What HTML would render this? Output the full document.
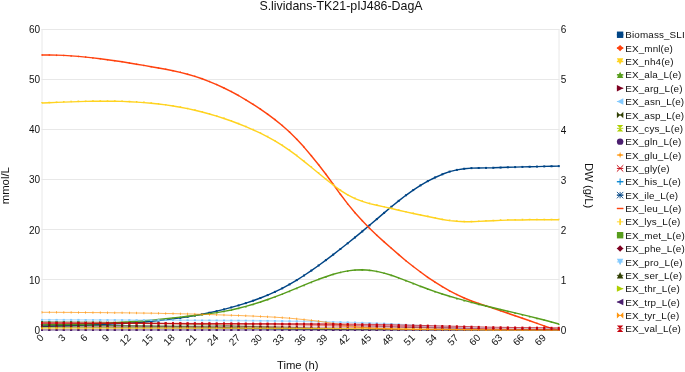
<!DOCTYPE html>
<html><head><meta charset="utf-8"><title>S.lividans-TK21-pIJ486-DagA</title>
<style>html,body{margin:0;padding:0;background:#fff;overflow:hidden}body{width:685px;height:372px;position:relative}</style></head>
<body>
<svg width="685" height="372" viewBox="0 0 685 372" style="position:absolute;left:0;top:0;font-family:'Liberation Sans',Arial,sans-serif;fill:#111">
<path d="M41.5 29.5H559.5M41.5 79.5H559.5M41.5 129.5H559.5M41.5 179.5H559.5M41.5 229.5H559.5M41.5 279.5H559.5M41.5 329.5H559.5M42 29V330M559 29V330" stroke="#e8e8e8" stroke-width="1" fill="none"/>
<text x="341" y="9.7" font-size="12.4" text-anchor="middle">S.lividans-TK21-pIJ486-DagA</text>
<text x="40" y="33.30" font-size="10" text-anchor="end">60</text>
<text x="560.8" y="33.30" font-size="10">6</text>
<text x="40" y="83.30" font-size="10" text-anchor="end">50</text>
<text x="560.8" y="83.30" font-size="10">5</text>
<text x="40" y="133.30" font-size="10" text-anchor="end">40</text>
<text x="560.8" y="133.80" font-size="10">4</text>
<text x="40" y="183.30" font-size="10" text-anchor="end">30</text>
<text x="560.8" y="183.70" font-size="10">3</text>
<text x="40" y="233.50" font-size="10" text-anchor="end">20</text>
<text x="560.8" y="233.80" font-size="10">2</text>
<text x="40" y="284.20" font-size="10" text-anchor="end">10</text>
<text x="560.8" y="284.20" font-size="10">1</text>
<text x="40" y="334.20" font-size="10" text-anchor="end">0</text>
<text x="560.8" y="334.20" font-size="10">0</text>
<text transform="translate(44.4 338.4) rotate(-45)" font-size="10" text-anchor="end">0</text>
<text transform="translate(66.2 338.4) rotate(-45)" font-size="10" text-anchor="end">3</text>
<text transform="translate(88.1 338.4) rotate(-45)" font-size="10" text-anchor="end">6</text>
<text transform="translate(109.9 338.4) rotate(-45)" font-size="10" text-anchor="end">9</text>
<text transform="translate(131.7 338.4) rotate(-45)" font-size="10" text-anchor="end">12</text>
<text transform="translate(153.6 338.4) rotate(-45)" font-size="10" text-anchor="end">15</text>
<text transform="translate(175.4 338.4) rotate(-45)" font-size="10" text-anchor="end">18</text>
<text transform="translate(197.3 338.4) rotate(-45)" font-size="10" text-anchor="end">21</text>
<text transform="translate(219.1 338.4) rotate(-45)" font-size="10" text-anchor="end">24</text>
<text transform="translate(240.9 338.4) rotate(-45)" font-size="10" text-anchor="end">27</text>
<text transform="translate(262.8 338.4) rotate(-45)" font-size="10" text-anchor="end">30</text>
<text transform="translate(284.6 338.4) rotate(-45)" font-size="10" text-anchor="end">33</text>
<text transform="translate(306.4 338.4) rotate(-45)" font-size="10" text-anchor="end">36</text>
<text transform="translate(328.3 338.4) rotate(-45)" font-size="10" text-anchor="end">39</text>
<text transform="translate(350.1 338.4) rotate(-45)" font-size="10" text-anchor="end">42</text>
<text transform="translate(371.9 338.4) rotate(-45)" font-size="10" text-anchor="end">45</text>
<text transform="translate(393.8 338.4) rotate(-45)" font-size="10" text-anchor="end">48</text>
<text transform="translate(415.6 338.4) rotate(-45)" font-size="10" text-anchor="end">51</text>
<text transform="translate(437.5 338.4) rotate(-45)" font-size="10" text-anchor="end">54</text>
<text transform="translate(459.3 338.4) rotate(-45)" font-size="10" text-anchor="end">57</text>
<text transform="translate(481.1 338.4) rotate(-45)" font-size="10" text-anchor="end">60</text>
<text transform="translate(503.0 338.4) rotate(-45)" font-size="10" text-anchor="end">63</text>
<text transform="translate(524.8 338.4) rotate(-45)" font-size="10" text-anchor="end">66</text>
<text transform="translate(546.6 338.4) rotate(-45)" font-size="10" text-anchor="end">69</text>
<text transform="translate(9.4 185.7) rotate(-90)" font-size="11.3" text-anchor="middle">mmol/L</text>
<text transform="translate(585.1 185.7) rotate(90)" font-size="11.3" text-anchor="middle">DW (g/L)</text>
<text x="297.8" y="368.6" font-size="11.3" text-anchor="middle">Time (h)</text>
<polyline points="42.0,326.5 49.3,326.2 56.6,326.0 63.8,325.7 71.1,325.5 78.4,325.3 85.7,325.1 93.0,324.8 100.2,324.5 107.5,324.2 114.8,323.9 122.1,323.5 129.3,323.1 136.6,322.6 143.9,322.0 151.2,321.3 158.5,320.6 165.7,319.8 173.0,318.9 180.3,317.9 187.6,316.8 194.9,315.6 202.1,314.2 209.4,312.7 216.7,311.1 224.0,309.4 231.3,307.4 238.5,305.4 245.8,303.1 253.1,300.7 260.4,298.0 267.6,295.1 274.9,291.9 282.2,288.3 289.5,284.4 296.8,280.1 304.0,275.5 311.3,270.6 318.6,265.5 325.9,260.1 333.2,254.6 340.4,249.0 347.7,243.3 355.0,237.4 362.3,231.4 369.5,225.3 376.8,219.1 384.1,212.9 391.4,206.8 398.7,200.9 405.9,195.3 413.2,190.1 420.5,185.4 427.8,181.1 435.1,177.5 442.3,174.3 449.6,171.6 456.9,169.9 464.2,168.8 471.5,168.1 478.7,168.0 486.0,167.9 493.3,167.8 500.6,167.5 507.8,167.3 515.1,167.1 522.4,166.9 529.7,166.7 537.0,166.6 544.2,166.4 551.5,166.3 558.8,166.1" fill="none" stroke="#004586" stroke-width="1.45" stroke-linejoin="round"/>
<g fill="#004586"><rect x="41" y="325.47" width="2" height="2"/><rect x="48.28" y="325.21" width="2" height="2"/><rect x="55.56" y="324.97" width="2" height="2"/><rect x="62.84" y="324.75" width="2" height="2"/><rect x="70.12" y="324.52" width="2" height="2"/><rect x="77.39" y="324.3" width="2" height="2"/><rect x="84.67" y="324.06" width="2" height="2"/><rect x="91.95" y="323.81" width="2" height="2"/><rect x="99.23" y="323.54" width="2" height="2"/><rect x="106.51" y="323.23" width="2" height="2"/><rect x="113.79" y="322.89" width="2" height="2"/><rect x="121.07" y="322.5" width="2" height="2"/><rect x="128.35" y="322.06" width="2" height="2"/><rect x="135.63" y="321.56" width="2" height="2"/><rect x="142.9" y="320.99" width="2" height="2"/><rect x="150.18" y="320.35" width="2" height="2"/><rect x="157.46" y="319.63" width="2" height="2"/><rect x="164.74" y="318.82" width="2" height="2"/><rect x="172.02" y="317.92" width="2" height="2"/><rect x="179.3" y="316.92" width="2" height="2"/><rect x="186.58" y="315.8" width="2" height="2"/><rect x="193.86" y="314.57" width="2" height="2"/><rect x="201.14" y="313.22" width="2" height="2"/><rect x="208.41" y="311.74" width="2" height="2"/><rect x="215.69" y="310.12" width="2" height="2"/><rect x="222.97" y="308.36" width="2" height="2"/><rect x="230.25" y="306.45" width="2" height="2"/><rect x="237.53" y="304.38" width="2" height="2"/><rect x="244.81" y="302.14" width="2" height="2"/><rect x="252.09" y="299.7" width="2" height="2"/><rect x="259.37" y="297.04" width="2" height="2"/><rect x="266.65" y="294.11" width="2" height="2"/><rect x="273.92" y="290.88" width="2" height="2"/><rect x="281.2" y="287.32" width="2" height="2"/><rect x="288.48" y="283.39" width="2" height="2"/><rect x="295.76" y="279.1" width="2" height="2"/><rect x="303.04" y="274.49" width="2" height="2"/><rect x="310.32" y="269.59" width="2" height="2"/><rect x="317.6" y="264.46" width="2" height="2"/><rect x="324.88" y="259.13" width="2" height="2"/><rect x="332.15" y="253.64" width="2" height="2"/><rect x="339.43" y="248.03" width="2" height="2"/><rect x="346.71" y="242.29" width="2" height="2"/><rect x="353.99" y="236.43" width="2" height="2"/><rect x="361.27" y="230.44" width="2" height="2"/><rect x="368.55" y="224.32" width="2" height="2"/><rect x="375.83" y="218.11" width="2" height="2"/><rect x="383.11" y="211.89" width="2" height="2"/><rect x="390.39" y="205.77" width="2" height="2"/><rect x="397.66" y="199.86" width="2" height="2"/><rect x="404.94" y="194.28" width="2" height="2"/><rect x="412.22" y="189.1" width="2" height="2"/><rect x="419.5" y="184.37" width="2" height="2"/><rect x="426.78" y="180.15" width="2" height="2"/><rect x="434.06" y="176.47" width="2" height="2"/><rect x="441.34" y="173.31" width="2" height="2"/><rect x="448.62" y="170.62" width="2" height="2"/><rect x="455.9" y="168.9" width="2" height="2"/><rect x="463.17" y="167.76" width="2" height="2"/><rect x="470.45" y="167.12" width="2" height="2"/><rect x="477.73" y="166.99" width="2" height="2"/><rect x="485.01" y="166.92" width="2" height="2"/><rect x="492.29" y="166.76" width="2" height="2"/><rect x="499.57" y="166.55" width="2" height="2"/><rect x="506.85" y="166.32" width="2" height="2"/><rect x="514.13" y="166.11" width="2" height="2"/><rect x="521.41" y="165.93" width="2" height="2"/><rect x="528.68" y="165.75" width="2" height="2"/><rect x="535.96" y="165.58" width="2" height="2"/><rect x="543.24" y="165.42" width="2" height="2"/><rect x="550.52" y="165.26" width="2" height="2"/><rect x="557.8" y="165.12" width="2" height="2"/></g>
<polyline points="42.0,55.0 49.3,55.0 56.6,55.1 63.8,55.4 71.1,55.9 78.4,56.4 85.7,57.1 93.0,57.9 100.2,58.8 107.5,59.7 114.8,60.7 122.1,61.8 129.3,63.0 136.6,64.2 143.9,65.4 151.2,66.7 158.5,68.0 165.7,69.3 173.0,70.7 180.3,72.4 187.6,74.2 194.9,76.4 202.1,78.8 209.4,81.6 216.7,84.6 224.0,88.0 231.3,91.6 238.5,95.5 245.8,99.8 253.1,104.3 260.4,109.1 267.6,114.1 274.9,119.6 282.2,125.5 289.5,132.0 296.8,139.2 304.0,147.1 311.3,155.7 318.6,164.7 325.9,174.3 333.2,184.3 340.4,194.3 347.7,203.9 355.0,212.7 362.3,220.8 369.5,228.2 376.8,235.2 384.1,241.9 391.4,248.3 398.7,254.6 405.9,260.7 413.2,266.5 420.5,272.0 427.8,277.3 435.1,282.2 442.3,286.7 449.6,290.9 456.9,294.6 464.2,298.0 471.5,301.0 478.7,303.5 486.0,305.9 493.3,308.3 500.6,310.8 507.8,313.3 515.1,315.8 522.4,318.3 529.7,320.8 537.0,323.4 544.2,325.9 551.5,328.4 558.8,329.7" fill="none" stroke="#FF420E" stroke-width="1.45" stroke-linejoin="round"/>
<g fill="#FF420E"><path d="M42 53.96L43 54.96L42 55.96L41 54.96Z"/><path d="M49.28 53.98L50.28 54.98L49.28 55.98L48.28 54.98Z"/><path d="M56.56 54.14L57.56 55.14L56.56 56.14L55.56 55.14Z"/><path d="M63.84 54.45L64.84 55.45L63.84 56.45L62.84 55.45Z"/><path d="M71.12 54.89L72.12 55.89L71.12 56.89L70.12 55.89Z"/><path d="M78.39 55.44L79.39 56.44L78.39 57.44L77.39 56.44Z"/><path d="M85.67 56.11L86.67 57.11L85.67 58.11L84.67 57.11Z"/><path d="M92.95 56.89L93.95 57.89L92.95 58.89L91.95 57.89Z"/><path d="M100.23 57.75L101.23 58.75L100.23 59.75L99.23 58.75Z"/><path d="M107.51 58.71L108.51 59.71L107.51 60.71L106.51 59.71Z"/><path d="M114.79 59.73L115.79 60.73L114.79 61.73L113.79 60.73Z"/><path d="M122.07 60.82L123.07 61.82L122.07 62.82L121.07 61.82Z"/><path d="M129.35 61.97L130.35 62.97L129.35 63.97L128.35 62.97Z"/><path d="M136.63 63.17L137.63 64.17L136.63 65.17L135.63 64.17Z"/><path d="M143.9 64.4L144.9 65.4L143.9 66.4L142.9 65.4Z"/><path d="M151.18 65.67L152.18 66.67L151.18 67.67L150.18 66.67Z"/><path d="M158.46 66.95L159.46 67.95L158.46 68.95L157.46 67.95Z"/><path d="M165.74 68.29L166.74 69.29L165.74 70.29L164.74 69.29Z"/><path d="M173.02 69.74L174.02 70.74L173.02 71.74L172.02 70.74Z"/><path d="M180.3 71.37L181.3 72.37L180.3 73.37L179.3 72.37Z"/><path d="M187.58 73.23L188.58 74.23L187.58 75.23L186.58 74.23Z"/><path d="M194.86 75.37L195.86 76.37L194.86 77.37L193.86 76.37Z"/><path d="M202.14 77.82L203.14 78.82L202.14 79.82L201.14 78.82Z"/><path d="M209.41 80.57L210.41 81.57L209.41 82.57L208.41 81.57Z"/><path d="M216.69 83.62L217.69 84.62L216.69 85.62L215.69 84.62Z"/><path d="M223.97 86.97L224.97 87.97L223.97 88.97L222.97 87.97Z"/><path d="M231.25 90.6L232.25 91.6L231.25 92.6L230.25 91.6Z"/><path d="M238.53 94.54L239.53 95.54L238.53 96.54L237.53 95.54Z"/><path d="M245.81 98.76L246.81 99.76L245.81 100.76L244.81 99.76Z"/><path d="M253.09 103.27L254.09 104.27L253.09 105.27L252.09 104.27Z"/><path d="M260.37 108.06L261.37 109.06L260.37 110.06L259.37 109.06Z"/><path d="M267.65 113.14L268.65 114.14L267.65 115.14L266.65 114.14Z"/><path d="M274.92 118.56L275.92 119.56L274.92 120.56L273.92 119.56Z"/><path d="M282.2 124.47L283.2 125.47L282.2 126.47L281.2 125.47Z"/><path d="M289.48 130.99L290.48 131.99L289.48 132.99L288.48 131.99Z"/><path d="M296.76 138.23L297.76 139.23L296.76 140.23L295.76 139.23Z"/><path d="M304.04 146.14L305.04 147.14L304.04 148.14L303.04 147.14Z"/><path d="M311.32 154.66L312.32 155.66L311.32 156.66L310.32 155.66Z"/><path d="M318.6 163.74L319.6 164.74L318.6 165.74L317.6 164.74Z"/><path d="M325.88 173.33L326.88 174.33L325.88 175.33L324.88 174.33Z"/><path d="M333.15 183.3L334.15 184.3L333.15 185.3L332.15 184.3Z"/><path d="M340.43 193.3L341.43 194.3L340.43 195.3L339.43 194.3Z"/><path d="M347.71 202.89L348.71 203.89L347.71 204.89L346.71 203.89Z"/><path d="M354.99 211.7L355.99 212.7L354.99 213.7L353.99 212.7Z"/><path d="M362.27 219.77L363.27 220.77L362.27 221.77L361.27 220.77Z"/><path d="M369.55 227.21L370.55 228.21L369.55 229.21L368.55 228.21Z"/><path d="M376.83 234.2L377.83 235.2L376.83 236.2L375.83 235.2Z"/><path d="M384.11 240.85L385.11 241.85L384.11 242.85L383.11 241.85Z"/><path d="M391.39 247.31L392.39 248.31L391.39 249.31L390.39 248.31Z"/><path d="M398.66 253.59L399.66 254.59L398.66 255.59L397.66 254.59Z"/><path d="M405.94 259.66L406.94 260.66L405.94 261.66L404.94 260.66Z"/><path d="M413.22 265.48L414.22 266.48L413.22 267.48L412.22 266.48Z"/><path d="M420.5 271.03L421.5 272.03L420.5 273.03L419.5 272.03Z"/><path d="M427.78 276.27L428.78 277.27L427.78 278.27L426.78 277.27Z"/><path d="M435.06 281.18L436.06 282.18L435.06 283.18L434.06 282.18Z"/><path d="M442.34 285.72L443.34 286.72L442.34 287.72L441.34 286.72Z"/><path d="M449.62 289.88L450.62 290.88L449.62 291.88L448.62 290.88Z"/><path d="M456.9 293.61L457.9 294.61L456.9 295.61L455.9 294.61Z"/><path d="M464.17 297.02L465.17 298.02L464.17 299.02L463.17 298.02Z"/><path d="M471.45 300.02L472.45 301.02L471.45 302.02L470.45 301.02Z"/><path d="M478.73 302.47L479.73 303.47L478.73 304.47L477.73 303.47Z"/><path d="M486.01 304.86L487.01 305.86L486.01 306.86L485.01 305.86Z"/><path d="M493.29 307.32L494.29 308.32L493.29 309.32L492.29 308.32Z"/><path d="M500.57 309.81L501.57 310.81L500.57 311.81L499.57 310.81Z"/><path d="M507.85 312.32L508.85 313.32L507.85 314.32L506.85 313.32Z"/><path d="M515.13 314.84L516.13 315.84L515.13 316.84L514.13 315.84Z"/><path d="M522.41 317.32L523.41 318.32L522.41 319.32L521.41 318.32Z"/><path d="M529.68 319.82L530.68 320.82L529.68 321.82L528.68 320.82Z"/><path d="M536.96 322.37L537.96 323.37L536.96 324.37L535.96 323.37Z"/><path d="M544.24 324.91L545.24 325.91L544.24 326.91L543.24 325.91Z"/><path d="M551.52 327.39L552.52 328.39L551.52 329.39L550.52 328.39Z"/><path d="M558.8 328.7L559.8 329.7L558.8 330.7L557.8 329.7Z"/></g>
<polyline points="42.0,103.0 49.3,102.7 56.6,102.4 63.8,102.1 71.1,101.9 78.4,101.6 85.7,101.4 93.0,101.3 100.2,101.2 107.5,101.2 114.8,101.3 122.1,101.4 129.3,101.7 136.6,102.1 143.9,102.6 151.2,103.2 158.5,104.0 165.7,104.9 173.0,106.0 180.3,107.2 187.6,108.6 194.9,110.2 202.1,112.0 209.4,114.0 216.7,116.1 224.0,118.5 231.3,121.0 238.5,123.7 245.8,126.6 253.1,129.8 260.4,133.2 267.6,136.9 274.9,140.9 282.2,145.4 289.5,150.3 296.8,155.7 304.0,161.4 311.3,167.3 318.6,173.3 325.9,179.3 333.2,185.0 340.4,190.3 347.7,194.9 355.0,198.6 362.3,201.4 369.5,203.6 376.8,205.3 384.1,206.9 391.4,208.5 398.7,210.2 405.9,211.9 413.2,213.5 420.5,215.0 427.8,216.5 435.1,218.0 442.3,219.5 449.6,220.6 456.9,221.3 464.2,221.7 471.5,221.8 478.7,221.4 486.0,221.0 493.3,220.7 500.6,220.4 507.8,220.1 515.1,219.9 522.4,219.9 529.7,219.8 537.0,219.8 544.2,219.8 551.5,219.7 558.8,219.7" fill="none" stroke="#FFD320" stroke-width="1.45" stroke-linejoin="round"/>
<g fill="#FFD320"><path d="M41 102.01L43 102.01L42 104.01Z"/><path d="M48.28 101.71L50.28 101.71L49.28 103.71Z"/><path d="M55.56 101.41L57.56 101.41L56.56 103.41Z"/><path d="M62.84 101.12L64.84 101.12L63.84 103.12Z"/><path d="M70.12 100.85L72.12 100.85L71.12 102.85Z"/><path d="M77.39 100.62L79.39 100.62L78.39 102.62Z"/><path d="M84.67 100.42L86.67 100.42L85.67 102.42Z"/><path d="M91.95 100.28L93.95 100.28L92.95 102.28Z"/><path d="M99.23 100.2L101.23 100.2L100.23 102.2Z"/><path d="M106.51 100.19L108.51 100.19L107.51 102.19Z"/><path d="M113.79 100.26L115.79 100.26L114.79 102.26Z"/><path d="M121.07 100.43L123.07 100.43L122.07 102.43Z"/><path d="M128.35 100.69L130.35 100.69L129.35 102.69Z"/><path d="M135.63 101.07L137.63 101.07L136.63 103.07Z"/><path d="M142.9 101.57L144.9 101.57L143.9 103.57Z"/><path d="M150.18 102.2L152.18 102.2L151.18 104.2Z"/><path d="M157.46 102.97L159.46 102.97L158.46 104.97Z"/><path d="M164.74 103.89L166.74 103.89L165.74 105.89Z"/><path d="M172.02 104.97L174.02 104.97L173.02 106.97Z"/><path d="M179.3 106.22L181.3 106.22L180.3 108.22Z"/><path d="M186.58 107.64L188.58 107.64L187.58 109.64Z"/><path d="M193.86 109.24L195.86 109.24L194.86 111.24Z"/><path d="M201.14 111.02L203.14 111.02L202.14 113.02Z"/><path d="M208.41 112.98L210.41 112.98L209.41 114.98Z"/><path d="M215.69 115.13L217.69 115.13L216.69 117.13Z"/><path d="M222.97 117.46L224.97 117.46L223.97 119.46Z"/><path d="M230.25 119.99L232.25 119.99L231.25 121.99Z"/><path d="M237.53 122.72L239.53 122.72L238.53 124.72Z"/><path d="M244.81 125.64L246.81 125.64L245.81 127.64Z"/><path d="M252.09 128.78L254.09 128.78L253.09 130.78Z"/><path d="M259.37 132.17L261.37 132.17L260.37 134.17Z"/><path d="M266.65 135.87L268.65 135.87L267.65 137.87Z"/><path d="M273.92 139.92L275.92 139.92L274.92 141.92Z"/><path d="M281.2 144.38L283.2 144.38L282.2 146.38Z"/><path d="M288.48 149.3L290.48 149.3L289.48 151.3Z"/><path d="M295.76 154.68L297.76 154.68L296.76 156.68Z"/><path d="M303.04 160.39L305.04 160.39L304.04 162.39Z"/><path d="M310.32 166.32L312.32 166.32L311.32 168.32Z"/><path d="M317.6 172.33L319.6 172.33L318.6 174.33Z"/><path d="M324.88 178.29L326.88 178.29L325.88 180.29Z"/><path d="M332.15 184.04L334.15 184.04L333.15 186.04Z"/><path d="M339.43 189.34L341.43 189.34L340.43 191.34Z"/><path d="M346.71 193.92L348.71 193.92L347.71 195.92Z"/><path d="M353.99 197.56L355.99 197.56L354.99 199.56Z"/><path d="M361.27 200.37L363.27 200.37L362.27 202.37Z"/><path d="M368.55 202.55L370.55 202.55L369.55 204.55Z"/><path d="M375.83 204.32L377.83 204.32L376.83 206.32Z"/><path d="M383.11 205.89L385.11 205.89L384.11 207.89Z"/><path d="M390.39 207.48L392.39 207.48L391.39 209.48Z"/><path d="M397.66 209.2L399.66 209.2L398.66 211.2Z"/><path d="M404.94 210.9L406.94 210.9L405.94 212.9Z"/><path d="M412.22 212.51L414.22 212.51L413.22 214.51Z"/><path d="M419.5 214.02L421.5 214.02L420.5 216.02Z"/><path d="M426.78 215.54L428.78 215.54L427.78 217.54Z"/><path d="M434.06 217.03L436.06 217.03L435.06 219.03Z"/><path d="M441.34 218.5L443.34 218.5L442.34 220.5Z"/><path d="M448.62 219.56L450.62 219.56L449.62 221.56Z"/><path d="M455.9 220.26L457.9 220.26L456.9 222.26Z"/><path d="M463.17 220.73L465.17 220.73L464.17 222.73Z"/><path d="M470.45 220.75L472.45 220.75L471.45 222.75Z"/><path d="M477.73 220.43L479.73 220.43L478.73 222.43Z"/><path d="M485.01 220.04L487.01 220.04L486.01 222.04Z"/><path d="M492.29 219.72L494.29 219.72L493.29 221.72Z"/><path d="M499.57 219.37L501.57 219.37L500.57 221.37Z"/><path d="M506.85 219.07L508.85 219.07L507.85 221.07Z"/><path d="M514.13 218.9L516.13 218.9L515.13 220.9Z"/><path d="M521.41 218.85L523.41 218.85L522.41 220.85Z"/><path d="M528.68 218.82L530.68 218.82L529.68 220.82Z"/><path d="M535.96 218.79L537.96 218.79L536.96 220.79Z"/><path d="M543.24 218.76L545.24 218.76L544.24 220.76Z"/><path d="M550.52 218.73L552.52 218.73L551.52 220.73Z"/><path d="M557.8 218.7L559.8 218.7L558.8 220.7Z"/></g>
<polyline points="42.0,324.9 49.3,324.8 56.6,324.7 63.8,324.6 71.1,324.4 78.4,324.2 85.7,324.0 93.0,323.7 100.2,323.4 107.5,323.1 114.8,322.7 122.1,322.2 129.3,321.8 136.6,321.2 143.9,320.7 151.2,320.1 158.5,319.4 165.7,318.7 173.0,317.9 180.3,317.1 187.6,316.3 194.9,315.4 202.1,314.6 209.4,313.6 216.7,312.6 224.0,311.4 231.3,310.0 238.5,308.3 245.8,306.4 253.1,304.3 260.4,302.0 267.6,299.5 274.9,296.9 282.2,294.1 289.5,291.2 296.8,288.2 304.0,285.2 311.3,282.2 318.6,279.3 325.9,276.7 333.2,274.3 340.4,272.4 347.7,270.9 355.0,270.0 362.3,269.7 369.5,270.2 376.8,271.4 384.1,273.1 391.4,275.3 398.7,277.9 405.9,280.6 413.2,283.4 420.5,286.3 427.8,289.0 435.1,291.6 442.3,294.0 449.6,296.3 456.9,298.4 464.2,300.4 471.5,302.4 478.7,304.2 486.0,306.0 493.3,307.8 500.6,309.5 507.8,311.2 515.1,312.9 522.4,314.6 529.7,316.4 537.0,318.2 544.2,320.0 551.5,322.0 558.8,324.0" fill="none" stroke="#579D1C" stroke-width="1.45" stroke-linejoin="round"/>
<g fill="#579D1C"><path d="M41 325.92L43 325.92L42 323.92Z"/><path d="M48.28 325.84L50.28 325.84L49.28 323.84Z"/><path d="M55.56 325.73L57.56 325.73L56.56 323.73Z"/><path d="M62.84 325.6L64.84 325.6L63.84 323.6Z"/><path d="M70.12 325.43L72.12 325.43L71.12 323.43Z"/><path d="M77.39 325.23L79.39 325.23L78.39 323.23Z"/><path d="M84.67 324.99L86.67 324.99L85.67 322.99Z"/><path d="M91.95 324.72L93.95 324.72L92.95 322.72Z"/><path d="M99.23 324.41L101.23 324.41L100.23 322.41Z"/><path d="M106.51 324.06L108.51 324.06L107.51 322.06Z"/><path d="M113.79 323.67L115.79 323.67L114.79 321.67Z"/><path d="M121.07 323.23L123.07 323.23L122.07 321.23Z"/><path d="M128.35 322.76L130.35 322.76L129.35 320.76Z"/><path d="M135.63 322.24L137.63 322.24L136.63 320.24Z"/><path d="M142.9 321.67L144.9 321.67L143.9 319.67Z"/><path d="M150.18 321.05L152.18 321.05L151.18 319.05Z"/><path d="M157.46 320.39L159.46 320.39L158.46 318.39Z"/><path d="M164.74 319.67L166.74 319.67L165.74 317.67Z"/><path d="M172.02 318.92L174.02 318.92L173.02 316.92Z"/><path d="M179.3 318.12L181.3 318.12L180.3 316.12Z"/><path d="M186.58 317.29L188.58 317.29L187.58 315.29Z"/><path d="M193.86 316.44L195.86 316.44L194.86 314.44Z"/><path d="M201.14 315.55L203.14 315.55L202.14 313.55Z"/><path d="M208.41 314.61L210.41 314.61L209.41 312.61Z"/><path d="M215.69 313.57L217.69 313.57L216.69 311.57Z"/><path d="M222.97 312.37L224.97 312.37L223.97 310.37Z"/><path d="M230.25 310.97L232.25 310.97L231.25 308.97Z"/><path d="M237.53 309.33L239.53 309.33L238.53 307.33Z"/><path d="M244.81 307.44L246.81 307.44L245.81 305.44Z"/><path d="M252.09 305.32L254.09 305.32L253.09 303.32Z"/><path d="M259.37 303L261.37 303L260.37 301Z"/><path d="M266.65 300.5L268.65 300.5L267.65 298.5Z"/><path d="M273.92 297.85L275.92 297.85L274.92 295.85Z"/><path d="M281.2 295.07L283.2 295.07L282.2 293.07Z"/><path d="M288.48 292.18L290.48 292.18L289.48 290.18Z"/><path d="M295.76 289.22L297.76 289.22L296.76 287.22Z"/><path d="M303.04 286.2L305.04 286.2L304.04 284.2Z"/><path d="M310.32 283.21L312.32 283.21L311.32 281.21Z"/><path d="M317.6 280.35L319.6 280.35L318.6 278.35Z"/><path d="M324.88 277.69L326.88 277.69L325.88 275.69Z"/><path d="M332.15 275.34L334.15 275.34L333.15 273.34Z"/><path d="M339.43 273.37L341.43 273.37L340.43 271.37Z"/><path d="M346.71 271.89L348.71 271.89L347.71 269.89Z"/><path d="M353.99 270.98L355.99 270.98L354.99 268.98Z"/><path d="M361.27 270.74L363.27 270.74L362.27 268.74Z"/><path d="M368.55 271.22L370.55 271.22L369.55 269.22Z"/><path d="M375.83 272.37L377.83 272.37L376.83 270.37Z"/><path d="M383.11 274.1L385.11 274.1L384.11 272.1Z"/><path d="M390.39 276.31L392.39 276.31L391.39 274.31Z"/><path d="M397.66 278.86L399.66 278.86L398.66 276.86Z"/><path d="M404.94 281.62L406.94 281.62L405.94 279.62Z"/><path d="M412.22 284.45L414.22 284.45L413.22 282.45Z"/><path d="M419.5 287.26L421.5 287.26L420.5 285.26Z"/><path d="M426.78 290L428.78 290L427.78 288Z"/><path d="M434.06 292.58L436.06 292.58L435.06 290.58Z"/><path d="M441.34 294.99L443.34 294.99L442.34 292.99Z"/><path d="M448.62 297.26L450.62 297.26L449.62 295.26Z"/><path d="M455.9 299.4L457.9 299.4L456.9 297.4Z"/><path d="M463.17 301.43L465.17 301.43L464.17 299.43Z"/><path d="M470.45 303.36L472.45 303.36L471.45 301.36Z"/><path d="M477.73 305.22L479.73 305.22L478.73 303.22Z"/><path d="M485.01 307.02L487.01 307.02L486.01 305.02Z"/><path d="M492.29 308.77L494.29 308.77L493.29 306.77Z"/><path d="M499.57 310.5L501.57 310.5L500.57 308.5Z"/><path d="M506.85 312.21L508.85 312.21L507.85 310.21Z"/><path d="M514.13 313.92L516.13 313.92L515.13 311.92Z"/><path d="M521.41 315.64L523.41 315.64L522.41 313.64Z"/><path d="M528.68 317.39L530.68 317.39L529.68 315.39Z"/><path d="M535.96 319.19L537.96 319.19L536.96 317.19Z"/><path d="M543.24 321.04L545.24 321.04L544.24 319.04Z"/><path d="M550.52 322.96L552.52 322.96L551.52 320.96Z"/><path d="M557.8 324.97L559.8 324.97L558.8 322.97Z"/></g>
<polyline points="42.0,327.7 49.3,327.7 56.6,327.7 63.8,327.7 71.1,327.7 78.4,327.7 85.7,327.7 93.0,327.7 100.2,327.7 107.5,327.7 114.8,327.7 122.1,327.8 129.3,327.8 136.6,327.8 143.9,327.8 151.2,327.8 158.5,327.8 165.7,327.8 173.0,327.8 180.3,327.9 187.6,327.9 194.9,327.9 202.1,327.9 209.4,327.9 216.7,328.0 224.0,328.0 231.3,328.0 238.5,328.1 245.8,328.1 253.1,328.2 260.4,328.2 267.6,328.3 274.9,328.3 282.2,328.4 289.5,328.4 296.8,328.5 304.0,328.6 311.3,328.6 318.6,328.7 325.9,328.8 333.2,328.8 340.4,328.9 347.7,329.0 355.0,329.1 362.3,329.2 369.5,329.3 376.8,329.4 384.1,329.4 391.4,329.5 398.7,329.5 405.9,329.5 413.2,329.6 420.5,329.6 427.8,329.6 435.1,329.6 442.3,329.7 449.6,329.7 456.9,329.7 464.2,329.7 471.5,329.8 478.7,329.8 486.0,329.8 493.3,329.8 500.6,329.8 507.8,329.9 515.1,329.9 522.4,329.9 529.7,329.9 537.0,329.9 544.2,329.9 551.5,329.9 558.8,329.9" fill="none" stroke="#AECF00" stroke-width="0.45" stroke-linejoin="round"/>
<g fill="#AECF00"><path d="M41 326.7L43 326.7L41 328.7L43 328.7Z"/><path d="M48.28 326.7L50.28 326.7L48.28 328.7L50.28 328.7Z"/><path d="M55.56 326.7L57.56 326.7L55.56 328.7L57.56 328.7Z"/><path d="M62.84 326.71L64.84 326.71L62.84 328.71L64.84 328.71Z"/><path d="M70.12 326.71L72.12 326.71L70.12 328.71L72.12 328.71Z"/><path d="M77.39 326.71L79.39 326.71L77.39 328.71L79.39 328.71Z"/><path d="M84.67 326.72L86.67 326.72L84.67 328.72L86.67 328.72Z"/><path d="M91.95 326.73L93.95 326.73L91.95 328.73L93.95 328.73Z"/><path d="M99.23 326.73L101.23 326.73L99.23 328.73L101.23 328.73Z"/><path d="M106.51 326.74L108.51 326.74L106.51 328.74L108.51 328.74Z"/><path d="M113.79 326.75L115.79 326.75L113.79 328.75L115.79 328.75Z"/><path d="M121.07 326.76L123.07 326.76L121.07 328.76L123.07 328.76Z"/><path d="M128.35 326.77L130.35 326.77L128.35 328.77L130.35 328.77Z"/><path d="M135.63 326.78L137.63 326.78L135.63 328.78L137.63 328.78Z"/><path d="M142.9 326.79L144.9 326.79L142.9 328.79L144.9 328.79Z"/><path d="M150.18 326.8L152.18 326.8L150.18 328.8L152.18 328.8Z"/><path d="M157.46 326.82L159.46 326.82L157.46 328.82L159.46 328.82Z"/><path d="M164.74 326.83L166.74 326.83L164.74 328.83L166.74 328.83Z"/><path d="M172.02 326.84L174.02 326.84L172.02 328.84L174.02 328.84Z"/><path d="M179.3 326.86L181.3 326.86L179.3 328.86L181.3 328.86Z"/><path d="M186.58 326.87L188.58 326.87L186.58 328.87L188.58 328.87Z"/><path d="M193.86 326.89L195.86 326.89L193.86 328.89L195.86 328.89Z"/><path d="M201.14 326.9L203.14 326.9L201.14 328.9L203.14 328.9Z"/><path d="M208.41 326.93L210.41 326.93L208.41 328.93L210.41 328.93Z"/><path d="M215.69 326.95L217.69 326.95L215.69 328.95L217.69 328.95Z"/><path d="M222.97 326.98L224.97 326.98L222.97 328.98L224.97 328.98Z"/><path d="M230.25 327.02L232.25 327.02L230.25 329.02L232.25 329.02Z"/><path d="M237.53 327.06L239.53 327.06L237.53 329.06L239.53 329.06Z"/><path d="M244.81 327.1L246.81 327.1L244.81 329.1L246.81 329.1Z"/><path d="M252.09 327.15L254.09 327.15L252.09 329.15L254.09 329.15Z"/><path d="M259.37 327.2L261.37 327.2L259.37 329.2L261.37 329.2Z"/><path d="M266.65 327.26L268.65 327.26L266.65 329.26L268.65 329.26Z"/><path d="M273.92 327.32L275.92 327.32L273.92 329.32L275.92 329.32Z"/><path d="M281.2 327.37L283.2 327.37L281.2 329.37L283.2 329.37Z"/><path d="M288.48 327.44L290.48 327.44L288.48 329.44L290.48 329.44Z"/><path d="M295.76 327.5L297.76 327.5L295.76 329.5L297.76 329.5Z"/><path d="M303.04 327.56L305.04 327.56L303.04 329.56L305.04 329.56Z"/><path d="M310.32 327.62L312.32 327.62L310.32 329.62L312.32 329.62Z"/><path d="M317.6 327.69L319.6 327.69L317.6 329.69L319.6 329.69Z"/><path d="M324.88 327.76L326.88 327.76L324.88 329.76L326.88 329.76Z"/><path d="M332.15 327.85L334.15 327.85L332.15 329.85L334.15 329.85Z"/><path d="M339.43 327.94L341.43 327.94L339.43 329.94L341.43 329.94Z"/><path d="M346.71 328.05L348.71 328.05L346.71 330.05L348.71 330.05Z"/><path d="M353.99 328.15L355.99 328.15L353.99 330.15L355.99 330.15Z"/><path d="M361.27 328.24L363.27 328.24L361.27 330.24L363.27 330.24Z"/><path d="M368.55 328.32L370.55 328.32L368.55 330.32L370.55 330.32Z"/><path d="M375.83 328.38L377.83 328.38L375.83 330.38L377.83 330.38Z"/><path d="M383.11 328.42L385.11 328.42L383.11 330.42L385.11 330.42Z"/><path d="M390.39 328.46L392.39 328.46L390.39 330.46L392.39 330.46Z"/><path d="M397.66 328.49L399.66 328.49L397.66 330.49L399.66 330.49Z"/><path d="M404.94 328.52L406.94 328.52L404.94 330.52L406.94 330.52Z"/><path d="M412.22 328.56L414.22 328.56L412.22 330.56L414.22 330.56Z"/><path d="M419.5 328.59L421.5 328.59L419.5 330.59L421.5 330.59Z"/><path d="M426.78 328.62L428.78 328.62L426.78 330.62L428.78 330.62Z"/><path d="M434.06 328.64L436.06 328.64L434.06 330.64L436.06 330.64Z"/><path d="M441.34 328.67L443.34 328.67L441.34 330.67L443.34 330.67Z"/><path d="M448.62 328.7L450.62 328.7L448.62 330.7L450.62 330.7Z"/><path d="M455.9 328.72L457.9 328.72L455.9 330.72L457.9 330.72Z"/><path d="M463.17 328.75L465.17 328.75L463.17 330.75L465.17 330.75Z"/><path d="M470.45 328.77L472.45 328.77L470.45 330.77L472.45 330.77Z"/><path d="M477.73 328.79L479.73 328.79L477.73 330.79L479.73 330.79Z"/><path d="M485.01 328.81L487.01 328.81L485.01 330.81L487.01 330.81Z"/><path d="M492.29 328.82L494.29 328.82L492.29 330.82L494.29 330.82Z"/><path d="M499.57 328.84L501.57 328.84L499.57 330.84L501.57 330.84Z"/><path d="M506.85 328.85L508.85 328.85L506.85 330.85L508.85 330.85Z"/><path d="M514.13 328.86L516.13 328.86L514.13 330.86L516.13 330.86Z"/><path d="M521.41 328.88L523.41 328.88L521.41 330.88L523.41 330.88Z"/><path d="M528.68 328.88L530.68 328.88L528.68 330.88L530.68 330.88Z"/><path d="M535.96 328.89L537.96 328.89L535.96 330.89L537.96 330.89Z"/><path d="M543.24 328.9L545.24 328.9L543.24 330.9L545.24 330.9Z"/><path d="M550.52 328.9L552.52 328.9L550.52 330.9L552.52 330.9Z"/><path d="M557.8 328.9L559.8 328.9L557.8 330.9L559.8 330.9Z"/></g>
<polyline points="42.0,327.0 49.3,327.1 56.6,327.1 63.8,327.2 71.1,327.2 78.4,327.3 85.7,327.3 93.0,327.4 100.2,327.4 107.5,327.5 114.8,327.6 122.1,327.6 129.3,327.7 136.6,327.7 143.9,327.8 151.2,327.8 158.5,327.9 165.7,328.0 173.0,328.0 180.3,328.1 187.6,328.1 194.9,328.2 202.1,328.2 209.4,328.3 216.7,328.3 224.0,328.4 231.3,328.5 238.5,328.5 245.8,328.6 253.1,328.6 260.4,328.7 267.6,328.7 274.9,328.8 282.2,328.9 289.5,328.9 296.8,329.0 304.0,329.0 311.3,329.1 318.6,329.2 325.9,329.2 333.2,329.3 340.4,329.4 347.7,329.5 355.0,329.5 362.3,329.6 369.5,329.7 376.8,329.7 384.1,329.7 391.4,329.8 398.7,329.8 405.9,329.8 413.2,329.8 420.5,329.8 427.8,329.8 435.1,329.8 442.3,329.8 449.6,329.9 456.9,329.9 464.2,329.9 471.5,329.9 478.7,329.9 486.0,329.9 493.3,329.9 500.6,329.9 507.8,329.9 515.1,329.9 522.4,329.9 529.7,329.9 537.0,329.9 544.2,329.9 551.5,329.9 558.8,329.9" fill="none" stroke="#0084D1" stroke-width="0.45" stroke-linejoin="round"/>
<g fill="#0084D1"><path d="M41 327.01H43M42 326.01V328.01" fill="none" stroke="#0084D1" stroke-width="0.6"/><path d="M48.28 327.06H50.28M49.28 326.06V328.06" fill="none" stroke="#0084D1" stroke-width="0.6"/><path d="M55.56 327.12H57.56M56.56 326.12V328.12" fill="none" stroke="#0084D1" stroke-width="0.6"/><path d="M62.84 327.17H64.84M63.84 326.17V328.17" fill="none" stroke="#0084D1" stroke-width="0.6"/><path d="M70.12 327.23H72.12M71.12 326.23V328.23" fill="none" stroke="#0084D1" stroke-width="0.6"/><path d="M77.39 327.28H79.39M78.39 326.28V328.28" fill="none" stroke="#0084D1" stroke-width="0.6"/><path d="M84.67 327.34H86.67M85.67 326.34V328.34" fill="none" stroke="#0084D1" stroke-width="0.6"/><path d="M91.95 327.39H93.95M92.95 326.39V328.39" fill="none" stroke="#0084D1" stroke-width="0.6"/><path d="M99.23 327.45H101.23M100.23 326.45V328.45" fill="none" stroke="#0084D1" stroke-width="0.6"/><path d="M106.51 327.5H108.51M107.51 326.5V328.5" fill="none" stroke="#0084D1" stroke-width="0.6"/><path d="M113.79 327.56H115.79M114.79 326.56V328.56" fill="none" stroke="#0084D1" stroke-width="0.6"/><path d="M121.07 327.62H123.07M122.07 326.62V328.62" fill="none" stroke="#0084D1" stroke-width="0.6"/><path d="M128.35 327.67H130.35M129.35 326.67V328.67" fill="none" stroke="#0084D1" stroke-width="0.6"/><path d="M135.63 327.73H137.63M136.63 326.73V328.73" fill="none" stroke="#0084D1" stroke-width="0.6"/><path d="M142.9 327.78H144.9M143.9 326.78V328.78" fill="none" stroke="#0084D1" stroke-width="0.6"/><path d="M150.18 327.84H152.18M151.18 326.84V328.84" fill="none" stroke="#0084D1" stroke-width="0.6"/><path d="M157.46 327.9H159.46M158.46 326.9V328.9" fill="none" stroke="#0084D1" stroke-width="0.6"/><path d="M164.74 327.95H166.74M165.74 326.95V328.95" fill="none" stroke="#0084D1" stroke-width="0.6"/><path d="M172.02 328.01H174.02M173.02 327.01V329.01" fill="none" stroke="#0084D1" stroke-width="0.6"/><path d="M179.3 328.06H181.3M180.3 327.06V329.06" fill="none" stroke="#0084D1" stroke-width="0.6"/><path d="M186.58 328.12H188.58M187.58 327.12V329.12" fill="none" stroke="#0084D1" stroke-width="0.6"/><path d="M193.86 328.18H195.86M194.86 327.18V329.18" fill="none" stroke="#0084D1" stroke-width="0.6"/><path d="M201.14 328.23H203.14M202.14 327.23V329.23" fill="none" stroke="#0084D1" stroke-width="0.6"/><path d="M208.41 328.29H210.41M209.41 327.29V329.29" fill="none" stroke="#0084D1" stroke-width="0.6"/><path d="M215.69 328.35H217.69M216.69 327.35V329.35" fill="none" stroke="#0084D1" stroke-width="0.6"/><path d="M222.97 328.4H224.97M223.97 327.4V329.4" fill="none" stroke="#0084D1" stroke-width="0.6"/><path d="M230.25 328.46H232.25M231.25 327.46V329.46" fill="none" stroke="#0084D1" stroke-width="0.6"/><path d="M237.53 328.52H239.53M238.53 327.52V329.52" fill="none" stroke="#0084D1" stroke-width="0.6"/><path d="M244.81 328.57H246.81M245.81 327.57V329.57" fill="none" stroke="#0084D1" stroke-width="0.6"/><path d="M252.09 328.63H254.09M253.09 327.63V329.63" fill="none" stroke="#0084D1" stroke-width="0.6"/><path d="M259.37 328.69H261.37M260.37 327.69V329.69" fill="none" stroke="#0084D1" stroke-width="0.6"/><path d="M266.65 328.75H268.65M267.65 327.75V329.75" fill="none" stroke="#0084D1" stroke-width="0.6"/><path d="M273.92 328.8H275.92M274.92 327.8V329.8" fill="none" stroke="#0084D1" stroke-width="0.6"/><path d="M281.2 328.86H283.2M282.2 327.86V329.86" fill="none" stroke="#0084D1" stroke-width="0.6"/><path d="M288.48 328.92H290.48M289.48 327.92V329.92" fill="none" stroke="#0084D1" stroke-width="0.6"/><path d="M295.76 328.97H297.76M296.76 327.97V329.97" fill="none" stroke="#0084D1" stroke-width="0.6"/><path d="M303.04 329.03H305.04M304.04 328.03V330.03" fill="none" stroke="#0084D1" stroke-width="0.6"/><path d="M310.32 329.1H312.32M311.32 328.1V330.1" fill="none" stroke="#0084D1" stroke-width="0.6"/><path d="M317.6 329.17H319.6M318.6 328.17V330.17" fill="none" stroke="#0084D1" stroke-width="0.6"/><path d="M324.88 329.24H326.88M325.88 328.24V330.24" fill="none" stroke="#0084D1" stroke-width="0.6"/><path d="M332.15 329.31H334.15M333.15 328.31V330.31" fill="none" stroke="#0084D1" stroke-width="0.6"/><path d="M339.43 329.39H341.43M340.43 328.39V330.39" fill="none" stroke="#0084D1" stroke-width="0.6"/><path d="M346.71 329.46H348.71M347.71 328.46V330.46" fill="none" stroke="#0084D1" stroke-width="0.6"/><path d="M353.99 329.53H355.99M354.99 328.53V330.53" fill="none" stroke="#0084D1" stroke-width="0.6"/><path d="M361.27 329.6H363.27M362.27 328.6V330.6" fill="none" stroke="#0084D1" stroke-width="0.6"/><path d="M368.55 329.66H370.55M369.55 328.66V330.66" fill="none" stroke="#0084D1" stroke-width="0.6"/><path d="M375.83 329.71H377.83M376.83 328.71V330.71" fill="none" stroke="#0084D1" stroke-width="0.6"/><path d="M383.11 329.75H385.11M384.11 328.75V330.75" fill="none" stroke="#0084D1" stroke-width="0.6"/><path d="M390.39 329.78H392.39M391.39 328.78V330.78" fill="none" stroke="#0084D1" stroke-width="0.6"/><path d="M397.66 329.8H399.66M398.66 328.8V330.8" fill="none" stroke="#0084D1" stroke-width="0.6"/><path d="M404.94 329.81H406.94M405.94 328.81V330.81" fill="none" stroke="#0084D1" stroke-width="0.6"/><path d="M412.22 329.82H414.22M413.22 328.82V330.82" fill="none" stroke="#0084D1" stroke-width="0.6"/><path d="M419.5 329.82H421.5M420.5 328.82V330.82" fill="none" stroke="#0084D1" stroke-width="0.6"/><path d="M426.78 329.83H428.78M427.78 328.83V330.83" fill="none" stroke="#0084D1" stroke-width="0.6"/><path d="M434.06 329.84H436.06M435.06 328.84V330.84" fill="none" stroke="#0084D1" stroke-width="0.6"/><path d="M441.34 329.85H443.34M442.34 328.85V330.85" fill="none" stroke="#0084D1" stroke-width="0.6"/><path d="M448.62 329.85H450.62M449.62 328.85V330.85" fill="none" stroke="#0084D1" stroke-width="0.6"/><path d="M455.9 329.86H457.9M456.9 328.86V330.86" fill="none" stroke="#0084D1" stroke-width="0.6"/><path d="M463.17 329.86H465.17M464.17 328.86V330.86" fill="none" stroke="#0084D1" stroke-width="0.6"/><path d="M470.45 329.87H472.45M471.45 328.87V330.87" fill="none" stroke="#0084D1" stroke-width="0.6"/><path d="M477.73 329.87H479.73M478.73 328.87V330.87" fill="none" stroke="#0084D1" stroke-width="0.6"/><path d="M485.01 329.88H487.01M486.01 328.88V330.88" fill="none" stroke="#0084D1" stroke-width="0.6"/><path d="M492.29 329.88H494.29M493.29 328.88V330.88" fill="none" stroke="#0084D1" stroke-width="0.6"/><path d="M499.57 329.89H501.57M500.57 328.89V330.89" fill="none" stroke="#0084D1" stroke-width="0.6"/><path d="M506.85 329.89H508.85M507.85 328.89V330.89" fill="none" stroke="#0084D1" stroke-width="0.6"/><path d="M514.13 329.89H516.13M515.13 328.89V330.89" fill="none" stroke="#0084D1" stroke-width="0.6"/><path d="M521.41 329.89H523.41M522.41 328.89V330.89" fill="none" stroke="#0084D1" stroke-width="0.6"/><path d="M528.68 329.9H530.68M529.68 328.9V330.9" fill="none" stroke="#0084D1" stroke-width="0.6"/><path d="M535.96 329.9H537.96M536.96 328.9V330.9" fill="none" stroke="#0084D1" stroke-width="0.6"/><path d="M543.24 329.9H545.24M544.24 328.9V330.9" fill="none" stroke="#0084D1" stroke-width="0.6"/><path d="M550.52 329.9H552.52M551.52 328.9V330.9" fill="none" stroke="#0084D1" stroke-width="0.6"/><path d="M557.8 329.9H559.8M558.8 328.9V330.9" fill="none" stroke="#0084D1" stroke-width="0.6"/></g>
<polyline points="42.0,325.6 49.3,325.6 56.6,325.6 63.8,325.6 71.1,325.7 78.4,325.7 85.7,325.7 93.0,325.8 100.2,325.8 107.5,325.9 114.8,326.0 122.1,326.0 129.3,326.1 136.6,326.2 143.9,326.3 151.2,326.4 158.5,326.5 165.7,326.5 173.0,326.6 180.3,326.7 187.6,326.8 194.9,326.9 202.1,327.0 209.4,327.2 216.7,327.3 224.0,327.6 231.3,327.8 238.5,328.0 245.8,328.3 253.1,328.6 260.4,328.8 267.6,329.0 274.9,329.2 282.2,329.4 289.5,329.5 296.8,329.6 304.0,329.6 311.3,329.6 318.6,329.6 325.9,329.6 333.2,329.7 340.4,329.7 347.7,329.7 355.0,329.7 362.3,329.7 369.5,329.7 376.8,329.7 384.1,329.7 391.4,329.7 398.7,329.7 405.9,329.7 413.2,329.7 420.5,329.7 427.8,329.8 435.1,329.8 442.3,329.8 449.6,329.8 456.9,329.8 464.2,329.8 471.5,329.8 478.7,329.8 486.0,329.8 493.3,329.8 500.6,329.8 507.8,329.8 515.1,329.8 522.4,329.8 529.7,329.8 537.0,329.8 544.2,329.8 551.5,329.8 558.8,329.8" fill="none" stroke="#004586" stroke-width="0.45" stroke-linejoin="round"/>
<g fill="#004586"><path d="M41 324.6L43 326.6M43 324.6L41 326.6M41 325.6H43M42 324.6V326.6" fill="none" stroke="#004586" stroke-width="0.5"/><path d="M48.28 324.61L50.28 326.61M50.28 324.61L48.28 326.61M48.28 325.61H50.28M49.28 324.61V326.61" fill="none" stroke="#004586" stroke-width="0.5"/><path d="M55.56 324.62L57.56 326.62M57.56 324.62L55.56 326.62M55.56 325.62H57.56M56.56 324.62V326.62" fill="none" stroke="#004586" stroke-width="0.5"/><path d="M62.84 324.64L64.84 326.64M64.84 324.64L62.84 326.64M62.84 325.64H64.84M63.84 324.64V326.64" fill="none" stroke="#004586" stroke-width="0.5"/><path d="M70.12 324.67L72.12 326.67M72.12 324.67L70.12 326.67M70.12 325.67H72.12M71.12 324.67V326.67" fill="none" stroke="#004586" stroke-width="0.5"/><path d="M77.39 324.7L79.39 326.7M79.39 324.7L77.39 326.7M77.39 325.7H79.39M78.39 324.7V326.7" fill="none" stroke="#004586" stroke-width="0.5"/><path d="M84.67 324.75L86.67 326.75M86.67 324.75L84.67 326.75M84.67 325.75H86.67M85.67 324.75V326.75" fill="none" stroke="#004586" stroke-width="0.5"/><path d="M91.95 324.79L93.95 326.79M93.95 324.79L91.95 326.79M91.95 325.79H93.95M92.95 324.79V326.79" fill="none" stroke="#004586" stroke-width="0.5"/><path d="M99.23 324.85L101.23 326.85M101.23 324.85L99.23 326.85M99.23 325.85H101.23M100.23 324.85V326.85" fill="none" stroke="#004586" stroke-width="0.5"/><path d="M106.51 324.91L108.51 326.91M108.51 324.91L106.51 326.91M106.51 325.91H108.51M107.51 324.91V326.91" fill="none" stroke="#004586" stroke-width="0.5"/><path d="M113.79 324.97L115.79 326.97M115.79 324.97L113.79 326.97M113.79 325.97H115.79M114.79 324.97V326.97" fill="none" stroke="#004586" stroke-width="0.5"/><path d="M121.07 325.04L123.07 327.04M123.07 325.04L121.07 327.04M121.07 326.04H123.07M122.07 325.04V327.04" fill="none" stroke="#004586" stroke-width="0.5"/><path d="M128.35 325.12L130.35 327.12M130.35 325.12L128.35 327.12M128.35 326.12H130.35M129.35 325.12V327.12" fill="none" stroke="#004586" stroke-width="0.5"/><path d="M135.63 325.2L137.63 327.2M137.63 325.2L135.63 327.2M135.63 326.2H137.63M136.63 325.2V327.2" fill="none" stroke="#004586" stroke-width="0.5"/><path d="M142.9 325.28L144.9 327.28M144.9 325.28L142.9 327.28M142.9 326.28H144.9M143.9 325.28V327.28" fill="none" stroke="#004586" stroke-width="0.5"/><path d="M150.18 325.36L152.18 327.36M152.18 325.36L150.18 327.36M150.18 326.36H152.18M151.18 325.36V327.36" fill="none" stroke="#004586" stroke-width="0.5"/><path d="M157.46 325.45L159.46 327.45M159.46 325.45L157.46 327.45M157.46 326.45H159.46M158.46 325.45V327.45" fill="none" stroke="#004586" stroke-width="0.5"/><path d="M164.74 325.54L166.74 327.54M166.74 325.54L164.74 327.54M164.74 326.54H166.74M165.74 325.54V327.54" fill="none" stroke="#004586" stroke-width="0.5"/><path d="M172.02 325.64L174.02 327.64M174.02 325.64L172.02 327.64M172.02 326.64H174.02M173.02 325.64V327.64" fill="none" stroke="#004586" stroke-width="0.5"/><path d="M179.3 325.73L181.3 327.73M181.3 325.73L179.3 327.73M179.3 326.73H181.3M180.3 325.73V327.73" fill="none" stroke="#004586" stroke-width="0.5"/><path d="M186.58 325.83L188.58 327.83M188.58 325.83L186.58 327.83M186.58 326.83H188.58M187.58 325.83V327.83" fill="none" stroke="#004586" stroke-width="0.5"/><path d="M193.86 325.93L195.86 327.93M195.86 325.93L193.86 327.93M193.86 326.93H195.86M194.86 325.93V327.93" fill="none" stroke="#004586" stroke-width="0.5"/><path d="M201.14 326.03L203.14 328.03M203.14 326.03L201.14 328.03M201.14 327.03H203.14M202.14 326.03V328.03" fill="none" stroke="#004586" stroke-width="0.5"/><path d="M208.41 326.17L210.41 328.17M210.41 326.17L208.41 328.17M208.41 327.17H210.41M209.41 326.17V328.17" fill="none" stroke="#004586" stroke-width="0.5"/><path d="M215.69 326.35L217.69 328.35M217.69 326.35L215.69 328.35M215.69 327.35H217.69M216.69 326.35V328.35" fill="none" stroke="#004586" stroke-width="0.5"/><path d="M222.97 326.56L224.97 328.56M224.97 326.56L222.97 328.56M222.97 327.56H224.97M223.97 326.56V328.56" fill="none" stroke="#004586" stroke-width="0.5"/><path d="M230.25 326.79L232.25 328.79M232.25 326.79L230.25 328.79M230.25 327.79H232.25M231.25 326.79V328.79" fill="none" stroke="#004586" stroke-width="0.5"/><path d="M237.53 327.04L239.53 329.04M239.53 327.04L237.53 329.04M237.53 328.04H239.53M238.53 327.04V329.04" fill="none" stroke="#004586" stroke-width="0.5"/><path d="M244.81 327.3L246.81 329.3M246.81 327.3L244.81 329.3M244.81 328.3H246.81M245.81 327.3V329.3" fill="none" stroke="#004586" stroke-width="0.5"/><path d="M252.09 327.56L254.09 329.56M254.09 327.56L252.09 329.56M252.09 328.56H254.09M253.09 327.56V329.56" fill="none" stroke="#004586" stroke-width="0.5"/><path d="M259.37 327.8L261.37 329.8M261.37 327.8L259.37 329.8M259.37 328.8H261.37M260.37 327.8V329.8" fill="none" stroke="#004586" stroke-width="0.5"/><path d="M266.65 328.03L268.65 330.03M268.65 328.03L266.65 330.03M266.65 329.03H268.65M267.65 328.03V330.03" fill="none" stroke="#004586" stroke-width="0.5"/><path d="M273.92 328.23L275.92 330.23M275.92 328.23L273.92 330.23M273.92 329.23H275.92M274.92 328.23V330.23" fill="none" stroke="#004586" stroke-width="0.5"/><path d="M281.2 328.4L283.2 330.4M283.2 328.4L281.2 330.4M281.2 329.4H283.2M282.2 328.4V330.4" fill="none" stroke="#004586" stroke-width="0.5"/><path d="M288.48 328.52L290.48 330.52M290.48 328.52L288.48 330.52M288.48 329.52H290.48M289.48 328.52V330.52" fill="none" stroke="#004586" stroke-width="0.5"/><path d="M295.76 328.59L297.76 330.59M297.76 328.59L295.76 330.59M295.76 329.59H297.76M296.76 328.59V330.59" fill="none" stroke="#004586" stroke-width="0.5"/><path d="M303.04 328.61L305.04 330.61M305.04 328.61L303.04 330.61M303.04 329.61H305.04M304.04 328.61V330.61" fill="none" stroke="#004586" stroke-width="0.5"/><path d="M310.32 328.62L312.32 330.62M312.32 328.62L310.32 330.62M310.32 329.62H312.32M311.32 328.62V330.62" fill="none" stroke="#004586" stroke-width="0.5"/><path d="M317.6 328.63L319.6 330.63M319.6 328.63L317.6 330.63M317.6 329.63H319.6M318.6 328.63V330.63" fill="none" stroke="#004586" stroke-width="0.5"/><path d="M324.88 328.64L326.88 330.64M326.88 328.64L324.88 330.64M324.88 329.64H326.88M325.88 328.64V330.64" fill="none" stroke="#004586" stroke-width="0.5"/><path d="M332.15 328.65L334.15 330.65M334.15 328.65L332.15 330.65M332.15 329.65H334.15M333.15 328.65V330.65" fill="none" stroke="#004586" stroke-width="0.5"/><path d="M339.43 328.66L341.43 330.66M341.43 328.66L339.43 330.66M339.43 329.66H341.43M340.43 328.66V330.66" fill="none" stroke="#004586" stroke-width="0.5"/><path d="M346.71 328.67L348.71 330.67M348.71 328.67L346.71 330.67M346.71 329.67H348.71M347.71 328.67V330.67" fill="none" stroke="#004586" stroke-width="0.5"/><path d="M353.99 328.68L355.99 330.68M355.99 328.68L353.99 330.68M353.99 329.68H355.99M354.99 328.68V330.68" fill="none" stroke="#004586" stroke-width="0.5"/><path d="M361.27 328.69L363.27 330.69M363.27 328.69L361.27 330.69M361.27 329.69H363.27M362.27 328.69V330.69" fill="none" stroke="#004586" stroke-width="0.5"/><path d="M368.55 328.7L370.55 330.7M370.55 328.7L368.55 330.7M368.55 329.7H370.55M369.55 328.7V330.7" fill="none" stroke="#004586" stroke-width="0.5"/><path d="M375.83 328.71L377.83 330.71M377.83 328.71L375.83 330.71M375.83 329.71H377.83M376.83 328.71V330.71" fill="none" stroke="#004586" stroke-width="0.5"/><path d="M383.11 328.72L385.11 330.72M385.11 328.72L383.11 330.72M383.11 329.72H385.11M384.11 328.72V330.72" fill="none" stroke="#004586" stroke-width="0.5"/><path d="M390.39 328.72L392.39 330.72M392.39 328.72L390.39 330.72M390.39 329.72H392.39M391.39 328.72V330.72" fill="none" stroke="#004586" stroke-width="0.5"/><path d="M397.66 328.73L399.66 330.73M399.66 328.73L397.66 330.73M397.66 329.73H399.66M398.66 328.73V330.73" fill="none" stroke="#004586" stroke-width="0.5"/><path d="M404.94 328.74L406.94 330.74M406.94 328.74L404.94 330.74M404.94 329.74H406.94M405.94 328.74V330.74" fill="none" stroke="#004586" stroke-width="0.5"/><path d="M412.22 328.74L414.22 330.74M414.22 328.74L412.22 330.74M412.22 329.74H414.22M413.22 328.74V330.74" fill="none" stroke="#004586" stroke-width="0.5"/><path d="M419.5 328.75L421.5 330.75M421.5 328.75L419.5 330.75M419.5 329.75H421.5M420.5 328.75V330.75" fill="none" stroke="#004586" stroke-width="0.5"/><path d="M426.78 328.75L428.78 330.75M428.78 328.75L426.78 330.75M426.78 329.75H428.78M427.78 328.75V330.75" fill="none" stroke="#004586" stroke-width="0.5"/><path d="M434.06 328.76L436.06 330.76M436.06 328.76L434.06 330.76M434.06 329.76H436.06M435.06 328.76V330.76" fill="none" stroke="#004586" stroke-width="0.5"/><path d="M441.34 328.76L443.34 330.76M443.34 328.76L441.34 330.76M441.34 329.76H443.34M442.34 328.76V330.76" fill="none" stroke="#004586" stroke-width="0.5"/><path d="M448.62 328.77L450.62 330.77M450.62 328.77L448.62 330.77M448.62 329.77H450.62M449.62 328.77V330.77" fill="none" stroke="#004586" stroke-width="0.5"/><path d="M455.9 328.77L457.9 330.77M457.9 328.77L455.9 330.77M455.9 329.77H457.9M456.9 328.77V330.77" fill="none" stroke="#004586" stroke-width="0.5"/><path d="M463.17 328.78L465.17 330.78M465.17 328.78L463.17 330.78M463.17 329.78H465.17M464.17 328.78V330.78" fill="none" stroke="#004586" stroke-width="0.5"/><path d="M470.45 328.78L472.45 330.78M472.45 328.78L470.45 330.78M470.45 329.78H472.45M471.45 328.78V330.78" fill="none" stroke="#004586" stroke-width="0.5"/><path d="M477.73 328.78L479.73 330.78M479.73 328.78L477.73 330.78M477.73 329.78H479.73M478.73 328.78V330.78" fill="none" stroke="#004586" stroke-width="0.5"/><path d="M485.01 328.79L487.01 330.79M487.01 328.79L485.01 330.79M485.01 329.79H487.01M486.01 328.79V330.79" fill="none" stroke="#004586" stroke-width="0.5"/><path d="M492.29 328.79L494.29 330.79M494.29 328.79L492.29 330.79M492.29 329.79H494.29M493.29 328.79V330.79" fill="none" stroke="#004586" stroke-width="0.5"/><path d="M499.57 328.79L501.57 330.79M501.57 328.79L499.57 330.79M499.57 329.79H501.57M500.57 328.79V330.79" fill="none" stroke="#004586" stroke-width="0.5"/><path d="M506.85 328.79L508.85 330.79M508.85 328.79L506.85 330.79M506.85 329.79H508.85M507.85 328.79V330.79" fill="none" stroke="#004586" stroke-width="0.5"/><path d="M514.13 328.8L516.13 330.8M516.13 328.8L514.13 330.8M514.13 329.8H516.13M515.13 328.8V330.8" fill="none" stroke="#004586" stroke-width="0.5"/><path d="M521.41 328.8L523.41 330.8M523.41 328.8L521.41 330.8M521.41 329.8H523.41M522.41 328.8V330.8" fill="none" stroke="#004586" stroke-width="0.5"/><path d="M528.68 328.8L530.68 330.8M530.68 328.8L528.68 330.8M528.68 329.8H530.68M529.68 328.8V330.8" fill="none" stroke="#004586" stroke-width="0.5"/><path d="M535.96 328.8L537.96 330.8M537.96 328.8L535.96 330.8M535.96 329.8H537.96M536.96 328.8V330.8" fill="none" stroke="#004586" stroke-width="0.5"/><path d="M543.24 328.8L545.24 330.8M545.24 328.8L543.24 330.8M543.24 329.8H545.24M544.24 328.8V330.8" fill="none" stroke="#004586" stroke-width="0.5"/><path d="M550.52 328.8L552.52 330.8M552.52 328.8L550.52 330.8M550.52 329.8H552.52M551.52 328.8V330.8" fill="none" stroke="#004586" stroke-width="0.5"/><path d="M557.8 328.8L559.8 330.8M559.8 328.8L557.8 330.8M557.8 329.8H559.8M558.8 328.8V330.8" fill="none" stroke="#004586" stroke-width="0.5"/></g>
<polyline points="42.0,325.0 49.3,325.0 56.6,325.1 63.8,325.1 71.1,325.2 78.4,325.2 85.7,325.3 93.0,325.3 100.2,325.4 107.5,325.5 114.8,325.5 122.1,325.6 129.3,325.7 136.6,325.8 143.9,325.9 151.2,326.0 158.5,326.2 165.7,326.3 173.0,326.4 180.3,326.6 187.6,326.7 194.9,326.9 202.1,327.0 209.4,327.2 216.7,327.4 224.0,327.6 231.3,327.8 238.5,327.9 245.8,328.1 253.1,328.3 260.4,328.5 267.6,328.7 274.9,329.0 282.2,329.2 289.5,329.4 296.8,329.5 304.0,329.5 311.3,329.5 318.6,329.5 325.9,329.5 333.2,329.6 340.4,329.6 347.7,329.6 355.0,329.6 362.3,329.6 369.5,329.6 376.8,329.6 384.1,329.6 391.4,329.6 398.7,329.6 405.9,329.6 413.2,329.7 420.5,329.7 427.8,329.7 435.1,329.7 442.3,329.7 449.6,329.7 456.9,329.7 464.2,329.7 471.5,329.7 478.7,329.7 486.0,329.7 493.3,329.7 500.6,329.7 507.8,329.7 515.1,329.7 522.4,329.7 529.7,329.7 537.0,329.7 544.2,329.7 551.5,329.7 558.8,329.7" fill="none" stroke="#579D1C" stroke-width="0.45" stroke-linejoin="round"/>
<g fill="#579D1C"><rect x="41.0" y="324.0" width="2" height="2"/><rect x="48.3" y="324.0" width="2" height="2"/><rect x="55.6" y="324.1" width="2" height="2"/><rect x="62.8" y="324.1" width="2" height="2"/><rect x="70.1" y="324.2" width="2" height="2"/><rect x="77.4" y="324.2" width="2" height="2"/><rect x="84.7" y="324.3" width="2" height="2"/><rect x="92.0" y="324.3" width="2" height="2"/><rect x="99.2" y="324.4" width="2" height="2"/><rect x="106.5" y="324.5" width="2" height="2"/><rect x="113.8" y="324.5" width="2" height="2"/><rect x="121.1" y="324.6" width="2" height="2"/><rect x="128.3" y="324.7" width="2" height="2"/><rect x="135.6" y="324.8" width="2" height="2"/><rect x="142.9" y="324.9" width="2" height="2"/><rect x="150.2" y="325.0" width="2" height="2"/><rect x="157.5" y="325.2" width="2" height="2"/><rect x="164.7" y="325.3" width="2" height="2"/><rect x="172.0" y="325.4" width="2" height="2"/><rect x="179.3" y="325.6" width="2" height="2"/><rect x="186.6" y="325.7" width="2" height="2"/><rect x="193.9" y="325.9" width="2" height="2"/><rect x="201.1" y="326.0" width="2" height="2"/><rect x="208.4" y="326.2" width="2" height="2"/><rect x="215.7" y="326.4" width="2" height="2"/><rect x="223.0" y="326.6" width="2" height="2"/><rect x="230.3" y="326.8" width="2" height="2"/><rect x="237.5" y="326.9" width="2" height="2"/><rect x="244.8" y="327.1" width="2" height="2"/><rect x="252.1" y="327.3" width="2" height="2"/><rect x="259.4" y="327.5" width="2" height="2"/><rect x="266.6" y="327.7" width="2" height="2"/><rect x="273.9" y="328.0" width="2" height="2"/><rect x="281.2" y="328.2" width="2" height="2"/><rect x="288.5" y="328.4" width="2" height="2"/><rect x="295.8" y="328.5" width="2" height="2"/><rect x="303.0" y="328.5" width="2" height="2"/><rect x="310.3" y="328.5" width="2" height="2"/><rect x="317.6" y="328.5" width="2" height="2"/><rect x="324.9" y="328.5" width="2" height="2"/><rect x="332.2" y="328.6" width="2" height="2"/><rect x="339.4" y="328.6" width="2" height="2"/><rect x="346.7" y="328.6" width="2" height="2"/><rect x="354.0" y="328.6" width="2" height="2"/><rect x="361.3" y="328.6" width="2" height="2"/><rect x="368.5" y="328.6" width="2" height="2"/><rect x="375.8" y="328.6" width="2" height="2"/><rect x="383.1" y="328.6" width="2" height="2"/><rect x="390.4" y="328.6" width="2" height="2"/><rect x="397.7" y="328.6" width="2" height="2"/><rect x="404.9" y="328.6" width="2" height="2"/><rect x="412.2" y="328.7" width="2" height="2"/><rect x="419.5" y="328.7" width="2" height="2"/><rect x="426.8" y="328.7" width="2" height="2"/><rect x="434.1" y="328.7" width="2" height="2"/><rect x="441.3" y="328.7" width="2" height="2"/><rect x="448.6" y="328.7" width="2" height="2"/><rect x="455.9" y="328.7" width="2" height="2"/><rect x="463.2" y="328.7" width="2" height="2"/><rect x="470.5" y="328.7" width="2" height="2"/><rect x="477.7" y="328.7" width="2" height="2"/><rect x="485.0" y="328.7" width="2" height="2"/><rect x="492.3" y="328.7" width="2" height="2"/><rect x="499.6" y="328.7" width="2" height="2"/><rect x="506.8" y="328.7" width="2" height="2"/><rect x="514.1" y="328.7" width="2" height="2"/><rect x="521.4" y="328.7" width="2" height="2"/><rect x="528.7" y="328.7" width="2" height="2"/><rect x="536.0" y="328.7" width="2" height="2"/><rect x="543.2" y="328.7" width="2" height="2"/><rect x="550.5" y="328.7" width="2" height="2"/><rect x="557.8" y="328.7" width="2" height="2"/></g>
<polyline points="42.0,325.1 49.3,325.1 56.6,325.2 63.8,325.2 71.1,325.2 78.4,325.3 85.7,325.3 93.0,325.3 100.2,325.4 107.5,325.4 114.8,325.5 122.1,325.5 129.3,325.6 136.6,325.6 143.9,325.7 151.2,325.7 158.5,325.8 165.7,325.8 173.0,325.9 180.3,326.0 187.6,326.0 194.9,326.1 202.1,326.1 209.4,326.1 216.7,326.2 224.0,326.2 231.3,326.2 238.5,326.3 245.8,326.3 253.1,326.3 260.4,326.4 267.6,326.5 274.9,326.7 282.2,326.9 289.5,327.2 296.8,327.5 304.0,327.8 311.3,328.2 318.6,328.6 325.9,328.9 333.2,329.1 340.4,329.3 347.7,329.5 355.0,329.6 362.3,329.6 369.5,329.6 376.8,329.6 384.1,329.6 391.4,329.6 398.7,329.6 405.9,329.6 413.2,329.7 420.5,329.7 427.8,329.7 435.1,329.7 442.3,329.7 449.6,329.7 456.9,329.7 464.2,329.7 471.5,329.7 478.7,329.7 486.0,329.7 493.3,329.7 500.6,329.7 507.8,329.7 515.1,329.7 522.4,329.7 529.7,329.7 537.0,329.7 544.2,329.7 551.5,329.7 558.8,329.7" fill="none" stroke="#314004" stroke-width="0.45" stroke-linejoin="round"/>
<g fill="#314004"><rect x="41.0" y="324.1" width="2" height="2"/><rect x="48.3" y="324.1" width="2" height="2"/><rect x="55.6" y="324.2" width="2" height="2"/><rect x="62.8" y="324.2" width="2" height="2"/><rect x="70.1" y="324.2" width="2" height="2"/><rect x="77.4" y="324.3" width="2" height="2"/><rect x="84.7" y="324.3" width="2" height="2"/><rect x="92.0" y="324.3" width="2" height="2"/><rect x="99.2" y="324.4" width="2" height="2"/><rect x="106.5" y="324.4" width="2" height="2"/><rect x="113.8" y="324.5" width="2" height="2"/><rect x="121.1" y="324.5" width="2" height="2"/><rect x="128.3" y="324.6" width="2" height="2"/><rect x="135.6" y="324.6" width="2" height="2"/><rect x="142.9" y="324.7" width="2" height="2"/><rect x="150.2" y="324.7" width="2" height="2"/><rect x="157.5" y="324.8" width="2" height="2"/><rect x="164.7" y="324.8" width="2" height="2"/><rect x="172.0" y="324.9" width="2" height="2"/><rect x="179.3" y="325.0" width="2" height="2"/><rect x="186.6" y="325.0" width="2" height="2"/><rect x="193.9" y="325.1" width="2" height="2"/><rect x="201.1" y="325.1" width="2" height="2"/><rect x="208.4" y="325.1" width="2" height="2"/><rect x="215.7" y="325.2" width="2" height="2"/><rect x="223.0" y="325.2" width="2" height="2"/><rect x="230.3" y="325.2" width="2" height="2"/><rect x="237.5" y="325.3" width="2" height="2"/><rect x="244.8" y="325.3" width="2" height="2"/><rect x="252.1" y="325.3" width="2" height="2"/><rect x="259.4" y="325.4" width="2" height="2"/><rect x="266.6" y="325.5" width="2" height="2"/><rect x="273.9" y="325.7" width="2" height="2"/><rect x="281.2" y="325.9" width="2" height="2"/><rect x="288.5" y="326.2" width="2" height="2"/><rect x="295.8" y="326.5" width="2" height="2"/><rect x="303.0" y="326.8" width="2" height="2"/><rect x="310.3" y="327.2" width="2" height="2"/><rect x="317.6" y="327.6" width="2" height="2"/><rect x="324.9" y="327.9" width="2" height="2"/><rect x="332.2" y="328.1" width="2" height="2"/><rect x="339.4" y="328.3" width="2" height="2"/><rect x="346.7" y="328.5" width="2" height="2"/><rect x="354.0" y="328.6" width="2" height="2"/><rect x="361.3" y="328.6" width="2" height="2"/><rect x="368.5" y="328.6" width="2" height="2"/><rect x="375.8" y="328.6" width="2" height="2"/><rect x="383.1" y="328.6" width="2" height="2"/><rect x="390.4" y="328.6" width="2" height="2"/><rect x="397.7" y="328.6" width="2" height="2"/><rect x="404.9" y="328.6" width="2" height="2"/><rect x="412.2" y="328.7" width="2" height="2"/><rect x="419.5" y="328.7" width="2" height="2"/><rect x="426.8" y="328.7" width="2" height="2"/><rect x="434.1" y="328.7" width="2" height="2"/><rect x="441.3" y="328.7" width="2" height="2"/><rect x="448.6" y="328.7" width="2" height="2"/><rect x="455.9" y="328.7" width="2" height="2"/><rect x="463.2" y="328.7" width="2" height="2"/><rect x="470.5" y="328.7" width="2" height="2"/><rect x="477.7" y="328.7" width="2" height="2"/><rect x="485.0" y="328.7" width="2" height="2"/><rect x="492.3" y="328.7" width="2" height="2"/><rect x="499.6" y="328.7" width="2" height="2"/><rect x="506.8" y="328.7" width="2" height="2"/><rect x="514.1" y="328.7" width="2" height="2"/><rect x="521.4" y="328.7" width="2" height="2"/><rect x="528.7" y="328.7" width="2" height="2"/><rect x="536.0" y="328.7" width="2" height="2"/><rect x="543.2" y="328.7" width="2" height="2"/><rect x="550.5" y="328.7" width="2" height="2"/><rect x="557.8" y="328.7" width="2" height="2"/></g>
<polyline points="42.0,321.6 49.3,321.6 56.6,321.7 63.8,321.7 71.1,321.8 78.4,321.9 85.7,321.9 93.0,322.0 100.2,322.1 107.5,322.2 114.8,322.3 122.1,322.4 129.3,322.6 136.6,322.7 143.9,322.9 151.2,323.0 158.5,323.2 165.7,323.4 173.0,323.6 180.3,323.9 187.6,324.1 194.9,324.3 202.1,324.6 209.4,324.8 216.7,325.1 224.0,325.4 231.3,325.7 238.5,326.0 245.8,326.4 253.1,326.7 260.4,327.0 267.6,327.4 274.9,327.8 282.2,328.2 289.5,328.6 296.8,328.9 304.0,329.1 311.3,329.2 318.6,329.4 325.9,329.5 333.2,329.6 340.4,329.6 347.7,329.6 355.0,329.6 362.3,329.6 369.5,329.6 376.8,329.6 384.1,329.6 391.4,329.6 398.7,329.7 405.9,329.7 413.2,329.7 420.5,329.7 427.8,329.7 435.1,329.7 442.3,329.7 449.6,329.7 456.9,329.7 464.2,329.7 471.5,329.7 478.7,329.7 486.0,329.7 493.3,329.7 500.6,329.7 507.8,329.7 515.1,329.7 522.4,329.7 529.7,329.7 537.0,329.7 544.2,329.7 551.5,329.7 558.8,329.7" fill="none" stroke="#314004" stroke-width="0.45" stroke-linejoin="round"/>
<g fill="#314004"><path d="M41 320.6L43 322.6L43 320.6L41 322.6Z"/><path d="M48.28 320.63L50.28 322.63L50.28 320.63L48.28 322.63Z"/><path d="M55.56 320.67L57.56 322.67L57.56 320.67L55.56 322.67Z"/><path d="M62.84 320.72L64.84 322.72L64.84 320.72L62.84 322.72Z"/><path d="M70.12 320.78L72.12 322.78L72.12 320.78L70.12 322.78Z"/><path d="M77.39 320.85L79.39 322.85L79.39 320.85L77.39 322.85Z"/><path d="M84.67 320.94L86.67 322.94L86.67 320.94L84.67 322.94Z"/><path d="M91.95 321.02L93.95 323.02L93.95 321.02L91.95 323.02Z"/><path d="M99.23 321.12L101.23 323.12L101.23 321.12L99.23 323.12Z"/><path d="M106.51 321.22L108.51 323.22L108.51 321.22L106.51 323.22Z"/><path d="M113.79 321.32L115.79 323.32L115.79 321.32L113.79 323.32Z"/><path d="M121.07 321.43L123.07 323.43L123.07 321.43L121.07 323.43Z"/><path d="M128.35 321.55L130.35 323.55L130.35 321.55L128.35 323.55Z"/><path d="M135.63 321.7L137.63 323.7L137.63 321.7L135.63 323.7Z"/><path d="M142.9 321.86L144.9 323.86L144.9 321.86L142.9 323.86Z"/><path d="M150.18 322.04L152.18 324.04L152.18 322.04L150.18 324.04Z"/><path d="M157.46 322.23L159.46 324.23L159.46 322.23L157.46 324.23Z"/><path d="M164.74 322.43L166.74 324.43L166.74 322.43L164.74 324.43Z"/><path d="M172.02 322.65L174.02 324.65L174.02 322.65L172.02 324.65Z"/><path d="M179.3 322.87L181.3 324.87L181.3 322.87L179.3 324.87Z"/><path d="M186.58 323.1L188.58 325.1L188.58 323.1L186.58 325.1Z"/><path d="M193.86 323.33L195.86 325.33L195.86 323.33L193.86 325.33Z"/><path d="M201.14 323.57L203.14 325.57L203.14 323.57L201.14 325.57Z"/><path d="M208.41 323.83L210.41 325.83L210.41 323.83L208.41 325.83Z"/><path d="M215.69 324.1L217.69 326.1L217.69 324.1L215.69 326.1Z"/><path d="M222.97 324.4L224.97 326.4L224.97 324.4L222.97 326.4Z"/><path d="M230.25 324.71L232.25 326.71L232.25 324.71L230.25 326.71Z"/><path d="M237.53 325.02L239.53 327.02L239.53 325.02L237.53 327.02Z"/><path d="M244.81 325.35L246.81 327.35L246.81 325.35L244.81 327.35Z"/><path d="M252.09 325.68L254.09 327.68L254.09 325.68L252.09 327.68Z"/><path d="M259.37 326.02L261.37 328.02L261.37 326.02L259.37 328.02Z"/><path d="M266.65 326.39L268.65 328.39L268.65 326.39L266.65 328.39Z"/><path d="M273.92 326.82L275.92 328.82L275.92 326.82L273.92 328.82Z"/><path d="M281.2 327.24L283.2 329.24L283.2 327.24L281.2 329.24Z"/><path d="M288.48 327.62L290.48 329.62L290.48 327.62L288.48 329.62Z"/><path d="M295.76 327.91L297.76 329.91L297.76 327.91L295.76 329.91Z"/><path d="M303.04 328.09L305.04 330.09L305.04 328.09L303.04 330.09Z"/><path d="M310.32 328.25L312.32 330.25L312.32 328.25L310.32 330.25Z"/><path d="M317.6 328.39L319.6 330.39L319.6 328.39L317.6 330.39Z"/><path d="M324.88 328.5L326.88 330.5L326.88 328.5L324.88 330.5Z"/><path d="M332.15 328.57L334.15 330.57L334.15 328.57L332.15 330.57Z"/><path d="M339.43 328.6L341.43 330.6L341.43 328.6L339.43 330.6Z"/><path d="M346.71 328.61L348.71 330.61L348.71 328.61L346.71 330.61Z"/><path d="M353.99 328.62L355.99 330.62L355.99 328.62L353.99 330.62Z"/><path d="M361.27 328.62L363.27 330.62L363.27 328.62L361.27 330.62Z"/><path d="M368.55 328.63L370.55 330.63L370.55 328.63L368.55 330.63Z"/><path d="M375.83 328.64L377.83 330.64L377.83 328.64L375.83 330.64Z"/><path d="M383.11 328.64L385.11 330.64L385.11 328.64L383.11 330.64Z"/><path d="M390.39 328.65L392.39 330.65L392.39 328.65L390.39 330.65Z"/><path d="M397.66 328.65L399.66 330.65L399.66 328.65L397.66 330.65Z"/><path d="M404.94 328.66L406.94 330.66L406.94 328.66L404.94 330.66Z"/><path d="M412.22 328.66L414.22 330.66L414.22 328.66L412.22 330.66Z"/><path d="M419.5 328.67L421.5 330.67L421.5 328.67L419.5 330.67Z"/><path d="M426.78 328.67L428.78 330.67L428.78 328.67L426.78 330.67Z"/><path d="M434.06 328.67L436.06 330.67L436.06 328.67L434.06 330.67Z"/><path d="M441.34 328.68L443.34 330.68L443.34 328.68L441.34 330.68Z"/><path d="M448.62 328.68L450.62 330.68L450.62 328.68L448.62 330.68Z"/><path d="M455.9 328.68L457.9 330.68L457.9 328.68L455.9 330.68Z"/><path d="M463.17 328.69L465.17 330.69L465.17 328.69L463.17 330.69Z"/><path d="M470.45 328.69L472.45 330.69L472.45 328.69L470.45 330.69Z"/><path d="M477.73 328.69L479.73 330.69L479.73 328.69L477.73 330.69Z"/><path d="M485.01 328.69L487.01 330.69L487.01 328.69L485.01 330.69Z"/><path d="M492.29 328.69L494.29 330.69L494.29 328.69L492.29 330.69Z"/><path d="M499.57 328.7L501.57 330.7L501.57 328.7L499.57 330.7Z"/><path d="M506.85 328.7L508.85 330.7L508.85 328.7L506.85 330.7Z"/><path d="M514.13 328.7L516.13 330.7L516.13 328.7L514.13 330.7Z"/><path d="M521.41 328.7L523.41 330.7L523.41 328.7L521.41 330.7Z"/><path d="M528.68 328.7L530.68 330.7L530.68 328.7L528.68 330.7Z"/><path d="M535.96 328.7L537.96 330.7L537.96 328.7L535.96 330.7Z"/><path d="M543.24 328.7L545.24 330.7L545.24 328.7L543.24 330.7Z"/><path d="M550.52 328.7L552.52 330.7L552.52 328.7L550.52 330.7Z"/><path d="M557.8 328.7L559.8 330.7L559.8 328.7L557.8 330.7Z"/></g>
<polyline points="42.0,327.6 49.3,327.6 56.6,327.6 63.8,327.6 71.1,327.6 78.4,327.6 85.7,327.6 93.0,327.6 100.2,327.6 107.5,327.6 114.8,327.6 122.1,327.7 129.3,327.7 136.6,327.7 143.9,327.7 151.2,327.7 158.5,327.7 165.7,327.7 173.0,327.7 180.3,327.8 187.6,327.8 194.9,327.8 202.1,327.8 209.4,327.8 216.7,327.9 224.0,327.9 231.3,327.9 238.5,328.0 245.8,328.0 253.1,328.1 260.4,328.1 267.6,328.2 274.9,328.2 282.2,328.3 289.5,328.3 296.8,328.4 304.0,328.5 311.3,328.5 318.6,328.6 325.9,328.7 333.2,328.7 340.4,328.8 347.7,328.9 355.0,329.0 362.3,329.1 369.5,329.2 376.8,329.3 384.1,329.3 391.4,329.4 398.7,329.4 405.9,329.4 413.2,329.5 420.5,329.5 427.8,329.5 435.1,329.5 442.3,329.6 449.6,329.6 456.9,329.6 464.2,329.6 471.5,329.7 478.7,329.7 486.0,329.7 493.3,329.7 500.6,329.7 507.8,329.8 515.1,329.8 522.4,329.8 529.7,329.8 537.0,329.8 544.2,329.8 551.5,329.8 558.8,329.8" fill="none" stroke="#AECF00" stroke-width="0.45" stroke-linejoin="round"/>
<g fill="#AECF00"><rect x="41.0" y="326.6" width="2" height="2"/><rect x="48.3" y="326.6" width="2" height="2"/><rect x="55.6" y="326.6" width="2" height="2"/><rect x="62.8" y="326.6" width="2" height="2"/><rect x="70.1" y="326.6" width="2" height="2"/><rect x="77.4" y="326.6" width="2" height="2"/><rect x="84.7" y="326.6" width="2" height="2"/><rect x="92.0" y="326.6" width="2" height="2"/><rect x="99.2" y="326.6" width="2" height="2"/><rect x="106.5" y="326.6" width="2" height="2"/><rect x="113.8" y="326.6" width="2" height="2"/><rect x="121.1" y="326.7" width="2" height="2"/><rect x="128.3" y="326.7" width="2" height="2"/><rect x="135.6" y="326.7" width="2" height="2"/><rect x="142.9" y="326.7" width="2" height="2"/><rect x="150.2" y="326.7" width="2" height="2"/><rect x="157.5" y="326.7" width="2" height="2"/><rect x="164.7" y="326.7" width="2" height="2"/><rect x="172.0" y="326.7" width="2" height="2"/><rect x="179.3" y="326.8" width="2" height="2"/><rect x="186.6" y="326.8" width="2" height="2"/><rect x="193.9" y="326.8" width="2" height="2"/><rect x="201.1" y="326.8" width="2" height="2"/><rect x="208.4" y="326.8" width="2" height="2"/><rect x="215.7" y="326.9" width="2" height="2"/><rect x="223.0" y="326.9" width="2" height="2"/><rect x="230.3" y="326.9" width="2" height="2"/><rect x="237.5" y="327.0" width="2" height="2"/><rect x="244.8" y="327.0" width="2" height="2"/><rect x="252.1" y="327.1" width="2" height="2"/><rect x="259.4" y="327.1" width="2" height="2"/><rect x="266.6" y="327.2" width="2" height="2"/><rect x="273.9" y="327.2" width="2" height="2"/><rect x="281.2" y="327.3" width="2" height="2"/><rect x="288.5" y="327.3" width="2" height="2"/><rect x="295.8" y="327.4" width="2" height="2"/><rect x="303.0" y="327.5" width="2" height="2"/><rect x="310.3" y="327.5" width="2" height="2"/><rect x="317.6" y="327.6" width="2" height="2"/><rect x="324.9" y="327.7" width="2" height="2"/><rect x="332.2" y="327.7" width="2" height="2"/><rect x="339.4" y="327.8" width="2" height="2"/><rect x="346.7" y="327.9" width="2" height="2"/><rect x="354.0" y="328.0" width="2" height="2"/><rect x="361.3" y="328.1" width="2" height="2"/><rect x="368.5" y="328.2" width="2" height="2"/><rect x="375.8" y="328.3" width="2" height="2"/><rect x="383.1" y="328.3" width="2" height="2"/><rect x="390.4" y="328.4" width="2" height="2"/><rect x="397.7" y="328.4" width="2" height="2"/><rect x="404.9" y="328.4" width="2" height="2"/><rect x="412.2" y="328.5" width="2" height="2"/><rect x="419.5" y="328.5" width="2" height="2"/><rect x="426.8" y="328.5" width="2" height="2"/><rect x="434.1" y="328.5" width="2" height="2"/><rect x="441.3" y="328.6" width="2" height="2"/><rect x="448.6" y="328.6" width="2" height="2"/><rect x="455.9" y="328.6" width="2" height="2"/><rect x="463.2" y="328.6" width="2" height="2"/><rect x="470.5" y="328.7" width="2" height="2"/><rect x="477.7" y="328.7" width="2" height="2"/><rect x="485.0" y="328.7" width="2" height="2"/><rect x="492.3" y="328.7" width="2" height="2"/><rect x="499.6" y="328.7" width="2" height="2"/><rect x="506.8" y="328.8" width="2" height="2"/><rect x="514.1" y="328.8" width="2" height="2"/><rect x="521.4" y="328.8" width="2" height="2"/><rect x="528.7" y="328.8" width="2" height="2"/><rect x="536.0" y="328.8" width="2" height="2"/><rect x="543.2" y="328.8" width="2" height="2"/><rect x="550.5" y="328.8" width="2" height="2"/><rect x="557.8" y="328.8" width="2" height="2"/></g>
<polyline points="42.0,326.5 49.3,326.5 56.6,326.6 63.8,326.6 71.1,326.6 78.4,326.6 85.7,326.7 93.0,326.7 100.2,326.7 107.5,326.7 114.8,326.8 122.1,326.8 129.3,326.8 136.6,326.8 143.9,326.8 151.2,326.9 158.5,326.9 165.7,326.9 173.0,326.9 180.3,327.0 187.6,327.0 194.9,327.0 202.1,327.0 209.4,327.0 216.7,327.0 224.0,327.1 231.3,327.1 238.5,327.1 245.8,327.1 253.1,327.1 260.4,327.2 267.6,327.2 274.9,327.2 282.2,327.2 289.5,327.2 296.8,327.2 304.0,327.2 311.3,327.2 318.6,327.2 325.9,327.2 333.2,327.2 340.4,327.1 347.7,327.1 355.0,327.1 362.3,327.1 369.5,327.1 376.8,327.1 384.1,327.1 391.4,327.1 398.7,327.2 405.9,327.2 413.2,327.3 420.5,327.4 427.8,327.4 435.1,327.5 442.3,327.6 449.6,327.8 456.9,328.0 464.2,328.3 471.5,328.6 478.7,328.8 486.0,329.1 493.3,329.3 500.6,329.4 507.8,329.5 515.1,329.6 522.4,329.6 529.7,329.7 537.0,329.7 544.2,329.8 551.5,329.8 558.8,329.8" fill="none" stroke="#7E0021" stroke-width="0.45" stroke-linejoin="round"/>
<g fill="#7E0021"><rect x="41.0" y="325.5" width="2" height="2"/><rect x="48.3" y="325.5" width="2" height="2"/><rect x="55.6" y="325.6" width="2" height="2"/><rect x="62.8" y="325.6" width="2" height="2"/><rect x="70.1" y="325.6" width="2" height="2"/><rect x="77.4" y="325.6" width="2" height="2"/><rect x="84.7" y="325.7" width="2" height="2"/><rect x="92.0" y="325.7" width="2" height="2"/><rect x="99.2" y="325.7" width="2" height="2"/><rect x="106.5" y="325.7" width="2" height="2"/><rect x="113.8" y="325.8" width="2" height="2"/><rect x="121.1" y="325.8" width="2" height="2"/><rect x="128.3" y="325.8" width="2" height="2"/><rect x="135.6" y="325.8" width="2" height="2"/><rect x="142.9" y="325.8" width="2" height="2"/><rect x="150.2" y="325.9" width="2" height="2"/><rect x="157.5" y="325.9" width="2" height="2"/><rect x="164.7" y="325.9" width="2" height="2"/><rect x="172.0" y="325.9" width="2" height="2"/><rect x="179.3" y="326.0" width="2" height="2"/><rect x="186.6" y="326.0" width="2" height="2"/><rect x="193.9" y="326.0" width="2" height="2"/><rect x="201.1" y="326.0" width="2" height="2"/><rect x="208.4" y="326.0" width="2" height="2"/><rect x="215.7" y="326.0" width="2" height="2"/><rect x="223.0" y="326.1" width="2" height="2"/><rect x="230.3" y="326.1" width="2" height="2"/><rect x="237.5" y="326.1" width="2" height="2"/><rect x="244.8" y="326.1" width="2" height="2"/><rect x="252.1" y="326.1" width="2" height="2"/><rect x="259.4" y="326.2" width="2" height="2"/><rect x="266.6" y="326.2" width="2" height="2"/><rect x="273.9" y="326.2" width="2" height="2"/><rect x="281.2" y="326.2" width="2" height="2"/><rect x="288.5" y="326.2" width="2" height="2"/><rect x="295.8" y="326.2" width="2" height="2"/><rect x="303.0" y="326.2" width="2" height="2"/><rect x="310.3" y="326.2" width="2" height="2"/><rect x="317.6" y="326.2" width="2" height="2"/><rect x="324.9" y="326.2" width="2" height="2"/><rect x="332.2" y="326.2" width="2" height="2"/><rect x="339.4" y="326.1" width="2" height="2"/><rect x="346.7" y="326.1" width="2" height="2"/><rect x="354.0" y="326.1" width="2" height="2"/><rect x="361.3" y="326.1" width="2" height="2"/><rect x="368.5" y="326.1" width="2" height="2"/><rect x="375.8" y="326.1" width="2" height="2"/><rect x="383.1" y="326.1" width="2" height="2"/><rect x="390.4" y="326.1" width="2" height="2"/><rect x="397.7" y="326.2" width="2" height="2"/><rect x="404.9" y="326.2" width="2" height="2"/><rect x="412.2" y="326.3" width="2" height="2"/><rect x="419.5" y="326.4" width="2" height="2"/><rect x="426.8" y="326.4" width="2" height="2"/><rect x="434.1" y="326.5" width="2" height="2"/><rect x="441.3" y="326.6" width="2" height="2"/><rect x="448.6" y="326.8" width="2" height="2"/><rect x="455.9" y="327.0" width="2" height="2"/><rect x="463.2" y="327.3" width="2" height="2"/><rect x="470.5" y="327.6" width="2" height="2"/><rect x="477.7" y="327.8" width="2" height="2"/><rect x="485.0" y="328.1" width="2" height="2"/><rect x="492.3" y="328.3" width="2" height="2"/><rect x="499.6" y="328.4" width="2" height="2"/><rect x="506.8" y="328.5" width="2" height="2"/><rect x="514.1" y="328.6" width="2" height="2"/><rect x="521.4" y="328.6" width="2" height="2"/><rect x="528.7" y="328.7" width="2" height="2"/><rect x="536.0" y="328.7" width="2" height="2"/><rect x="543.2" y="328.8" width="2" height="2"/><rect x="550.5" y="328.8" width="2" height="2"/><rect x="557.8" y="328.8" width="2" height="2"/></g>
<polyline points="42.0,323.3 49.3,323.3 56.6,323.3 63.8,323.3 71.1,323.3 78.4,323.3 85.7,323.4 93.0,323.4 100.2,323.4 107.5,323.4 114.8,323.4 122.1,323.5 129.3,323.5 136.6,323.5 143.9,323.5 151.2,323.6 158.5,323.6 165.7,323.6 173.0,323.7 180.3,323.7 187.6,323.7 194.9,323.8 202.1,323.8 209.4,323.8 216.7,323.9 224.0,323.9 231.3,324.0 238.5,324.0 245.8,324.1 253.1,324.1 260.4,324.2 267.6,324.3 274.9,324.3 282.2,324.4 289.5,324.5 296.8,324.6 304.0,324.7 311.3,324.8 318.6,324.9 325.9,325.0 333.2,325.2 340.4,325.4 347.7,325.5 355.0,325.7 362.3,325.9 369.5,326.1 376.8,326.3 384.1,326.5 391.4,326.7 398.7,327.0 405.9,327.3 413.2,327.5 420.5,327.8 427.8,328.0 435.1,328.3 442.3,328.5 449.6,328.6 456.9,328.8 464.2,329.0 471.5,329.2 478.7,329.3 486.0,329.5 493.3,329.5 500.6,329.6 507.8,329.6 515.1,329.7 522.4,329.7 529.7,329.7 537.0,329.8 544.2,329.8 551.5,329.8 558.8,329.8" fill="none" stroke="#7E0021" stroke-width="0.45" stroke-linejoin="round"/>
<g fill="#7E0021"><rect x="41.0" y="322.3" width="2" height="2"/><rect x="48.3" y="322.3" width="2" height="2"/><rect x="55.6" y="322.3" width="2" height="2"/><rect x="62.8" y="322.3" width="2" height="2"/><rect x="70.1" y="322.3" width="2" height="2"/><rect x="77.4" y="322.3" width="2" height="2"/><rect x="84.7" y="322.4" width="2" height="2"/><rect x="92.0" y="322.4" width="2" height="2"/><rect x="99.2" y="322.4" width="2" height="2"/><rect x="106.5" y="322.4" width="2" height="2"/><rect x="113.8" y="322.4" width="2" height="2"/><rect x="121.1" y="322.5" width="2" height="2"/><rect x="128.3" y="322.5" width="2" height="2"/><rect x="135.6" y="322.5" width="2" height="2"/><rect x="142.9" y="322.5" width="2" height="2"/><rect x="150.2" y="322.6" width="2" height="2"/><rect x="157.5" y="322.6" width="2" height="2"/><rect x="164.7" y="322.6" width="2" height="2"/><rect x="172.0" y="322.7" width="2" height="2"/><rect x="179.3" y="322.7" width="2" height="2"/><rect x="186.6" y="322.7" width="2" height="2"/><rect x="193.9" y="322.8" width="2" height="2"/><rect x="201.1" y="322.8" width="2" height="2"/><rect x="208.4" y="322.8" width="2" height="2"/><rect x="215.7" y="322.9" width="2" height="2"/><rect x="223.0" y="322.9" width="2" height="2"/><rect x="230.3" y="323.0" width="2" height="2"/><rect x="237.5" y="323.0" width="2" height="2"/><rect x="244.8" y="323.1" width="2" height="2"/><rect x="252.1" y="323.1" width="2" height="2"/><rect x="259.4" y="323.2" width="2" height="2"/><rect x="266.6" y="323.3" width="2" height="2"/><rect x="273.9" y="323.3" width="2" height="2"/><rect x="281.2" y="323.4" width="2" height="2"/><rect x="288.5" y="323.5" width="2" height="2"/><rect x="295.8" y="323.6" width="2" height="2"/><rect x="303.0" y="323.7" width="2" height="2"/><rect x="310.3" y="323.8" width="2" height="2"/><rect x="317.6" y="323.9" width="2" height="2"/><rect x="324.9" y="324.0" width="2" height="2"/><rect x="332.2" y="324.2" width="2" height="2"/><rect x="339.4" y="324.4" width="2" height="2"/><rect x="346.7" y="324.5" width="2" height="2"/><rect x="354.0" y="324.7" width="2" height="2"/><rect x="361.3" y="324.9" width="2" height="2"/><rect x="368.5" y="325.1" width="2" height="2"/><rect x="375.8" y="325.3" width="2" height="2"/><rect x="383.1" y="325.5" width="2" height="2"/><rect x="390.4" y="325.7" width="2" height="2"/><rect x="397.7" y="326.0" width="2" height="2"/><rect x="404.9" y="326.3" width="2" height="2"/><rect x="412.2" y="326.5" width="2" height="2"/><rect x="419.5" y="326.8" width="2" height="2"/><rect x="426.8" y="327.0" width="2" height="2"/><rect x="434.1" y="327.3" width="2" height="2"/><rect x="441.3" y="327.5" width="2" height="2"/><rect x="448.6" y="327.6" width="2" height="2"/><rect x="455.9" y="327.8" width="2" height="2"/><rect x="463.2" y="328.0" width="2" height="2"/><rect x="470.5" y="328.2" width="2" height="2"/><rect x="477.7" y="328.3" width="2" height="2"/><rect x="485.0" y="328.5" width="2" height="2"/><rect x="492.3" y="328.5" width="2" height="2"/><rect x="499.6" y="328.6" width="2" height="2"/><rect x="506.8" y="328.6" width="2" height="2"/><rect x="514.1" y="328.7" width="2" height="2"/><rect x="521.4" y="328.7" width="2" height="2"/><rect x="528.7" y="328.7" width="2" height="2"/><rect x="536.0" y="328.8" width="2" height="2"/><rect x="543.2" y="328.8" width="2" height="2"/><rect x="550.5" y="328.8" width="2" height="2"/><rect x="557.8" y="328.8" width="2" height="2"/></g>
<polyline points="42.0,330.0 49.3,330.0 56.6,330.0 63.8,330.0 71.1,330.0 78.4,330.0 85.7,330.0 93.0,330.0 100.2,330.0 107.5,330.0 114.8,330.0 122.1,330.0 129.3,330.0 136.6,330.0 143.9,330.0 151.2,330.0 158.5,330.0 165.7,330.0 173.0,330.0 180.3,330.0 187.6,330.0 194.9,330.0 202.1,330.0 209.4,330.0 216.7,330.0 224.0,330.0 231.3,330.0 238.5,330.0 245.8,330.0 253.1,330.0 260.4,330.0 267.6,330.0 274.9,330.0 282.2,330.0 289.5,330.0 296.8,330.0 304.0,330.0 311.3,330.0 318.6,330.0 325.9,330.0 333.2,330.0 340.4,330.0 347.7,330.0 355.0,330.0 362.3,330.0 369.5,330.0 376.8,330.0 384.1,330.0 391.4,330.0 398.7,330.0 405.9,330.0 413.2,330.0 420.5,330.0 427.8,330.0 435.1,330.0 442.3,330.0 449.6,330.0 456.9,330.0 464.2,330.0 471.5,330.0 478.7,330.0 486.0,330.0 493.3,330.0 500.6,330.0 507.8,330.0 515.1,330.0 522.4,330.0 529.7,330.0 537.0,330.0 544.2,330.0 551.5,330.0 558.8,330.0" fill="none" stroke="#4B1F6F" stroke-width="0.45" stroke-linejoin="round"/>
<g fill="#4B1F6F"><rect x="41.0" y="329.0" width="2" height="2"/><rect x="48.3" y="329.0" width="2" height="2"/><rect x="55.6" y="329.0" width="2" height="2"/><rect x="62.8" y="329.0" width="2" height="2"/><rect x="70.1" y="329.0" width="2" height="2"/><rect x="77.4" y="329.0" width="2" height="2"/><rect x="84.7" y="329.0" width="2" height="2"/><rect x="92.0" y="329.0" width="2" height="2"/><rect x="99.2" y="329.0" width="2" height="2"/><rect x="106.5" y="329.0" width="2" height="2"/><rect x="113.8" y="329.0" width="2" height="2"/><rect x="121.1" y="329.0" width="2" height="2"/><rect x="128.3" y="329.0" width="2" height="2"/><rect x="135.6" y="329.0" width="2" height="2"/><rect x="142.9" y="329.0" width="2" height="2"/><rect x="150.2" y="329.0" width="2" height="2"/><rect x="157.5" y="329.0" width="2" height="2"/><rect x="164.7" y="329.0" width="2" height="2"/><rect x="172.0" y="329.0" width="2" height="2"/><rect x="179.3" y="329.0" width="2" height="2"/><rect x="186.6" y="329.0" width="2" height="2"/><rect x="193.9" y="329.0" width="2" height="2"/><rect x="201.1" y="329.0" width="2" height="2"/><rect x="208.4" y="329.0" width="2" height="2"/><rect x="215.7" y="329.0" width="2" height="2"/><rect x="223.0" y="329.0" width="2" height="2"/><rect x="230.3" y="329.0" width="2" height="2"/><rect x="237.5" y="329.0" width="2" height="2"/><rect x="244.8" y="329.0" width="2" height="2"/><rect x="252.1" y="329.0" width="2" height="2"/><rect x="259.4" y="329.0" width="2" height="2"/><rect x="266.6" y="329.0" width="2" height="2"/><rect x="273.9" y="329.0" width="2" height="2"/><rect x="281.2" y="329.0" width="2" height="2"/><rect x="288.5" y="329.0" width="2" height="2"/><rect x="295.8" y="329.0" width="2" height="2"/><rect x="303.0" y="329.0" width="2" height="2"/><rect x="310.3" y="329.0" width="2" height="2"/><rect x="317.6" y="329.0" width="2" height="2"/><rect x="324.9" y="329.0" width="2" height="2"/><rect x="332.2" y="329.0" width="2" height="2"/><rect x="339.4" y="329.0" width="2" height="2"/><rect x="346.7" y="329.0" width="2" height="2"/><rect x="354.0" y="329.0" width="2" height="2"/><rect x="361.3" y="329.0" width="2" height="2"/><rect x="368.5" y="329.0" width="2" height="2"/><rect x="375.8" y="329.0" width="2" height="2"/><rect x="383.1" y="329.0" width="2" height="2"/><rect x="390.4" y="329.0" width="2" height="2"/><rect x="397.7" y="329.0" width="2" height="2"/><rect x="404.9" y="329.0" width="2" height="2"/><rect x="412.2" y="329.0" width="2" height="2"/><rect x="419.5" y="329.0" width="2" height="2"/><rect x="426.8" y="329.0" width="2" height="2"/><rect x="434.1" y="329.0" width="2" height="2"/><rect x="441.3" y="329.0" width="2" height="2"/><rect x="448.6" y="329.0" width="2" height="2"/><rect x="455.9" y="329.0" width="2" height="2"/><rect x="463.2" y="329.0" width="2" height="2"/><rect x="470.5" y="329.0" width="2" height="2"/><rect x="477.7" y="329.0" width="2" height="2"/><rect x="485.0" y="329.0" width="2" height="2"/><rect x="492.3" y="329.0" width="2" height="2"/><rect x="499.6" y="329.0" width="2" height="2"/><rect x="506.8" y="329.0" width="2" height="2"/><rect x="514.1" y="329.0" width="2" height="2"/><rect x="521.4" y="329.0" width="2" height="2"/><rect x="528.7" y="329.0" width="2" height="2"/><rect x="536.0" y="329.0" width="2" height="2"/><rect x="543.2" y="329.0" width="2" height="2"/><rect x="550.5" y="329.0" width="2" height="2"/><rect x="557.8" y="329.0" width="2" height="2"/></g>
<polyline points="42.0,330.0 49.3,330.0 56.6,330.0 63.8,330.0 71.1,330.0 78.4,330.0 85.7,330.0 93.0,330.0 100.2,330.0 107.5,330.0 114.8,330.0 122.1,330.0 129.3,330.0 136.6,330.0 143.9,330.0 151.2,330.0 158.5,330.0 165.7,330.0 173.0,330.0 180.3,330.0 187.6,330.0 194.9,330.0 202.1,330.0 209.4,330.0 216.7,330.0 224.0,330.0 231.3,330.0 238.5,330.0 245.8,330.0 253.1,330.0 260.4,330.0 267.6,330.0 274.9,330.0 282.2,330.0 289.5,330.0 296.8,330.0 304.0,330.0 311.3,330.0 318.6,330.0 325.9,330.0 333.2,330.0 340.4,330.0 347.7,330.0 355.0,330.0 362.3,330.0 369.5,330.0 376.8,330.0 384.1,330.0 391.4,330.0 398.7,330.0 405.9,330.0 413.2,330.0 420.5,330.0 427.8,330.0 435.1,330.0 442.3,330.0 449.6,330.0 456.9,330.0 464.2,330.0 471.5,330.0 478.7,330.0 486.0,330.0 493.3,330.0 500.6,330.0 507.8,330.0 515.1,330.0 522.4,330.0 529.7,330.0 537.0,330.0 544.2,330.0 551.5,330.0 558.8,330.0" fill="none" stroke="#4B1F6F" stroke-width="0.45" stroke-linejoin="round"/>
<g fill="#4B1F6F"><rect x="41.0" y="329.0" width="2" height="2"/><rect x="48.3" y="329.0" width="2" height="2"/><rect x="55.6" y="329.0" width="2" height="2"/><rect x="62.8" y="329.0" width="2" height="2"/><rect x="70.1" y="329.0" width="2" height="2"/><rect x="77.4" y="329.0" width="2" height="2"/><rect x="84.7" y="329.0" width="2" height="2"/><rect x="92.0" y="329.0" width="2" height="2"/><rect x="99.2" y="329.0" width="2" height="2"/><rect x="106.5" y="329.0" width="2" height="2"/><rect x="113.8" y="329.0" width="2" height="2"/><rect x="121.1" y="329.0" width="2" height="2"/><rect x="128.3" y="329.0" width="2" height="2"/><rect x="135.6" y="329.0" width="2" height="2"/><rect x="142.9" y="329.0" width="2" height="2"/><rect x="150.2" y="329.0" width="2" height="2"/><rect x="157.5" y="329.0" width="2" height="2"/><rect x="164.7" y="329.0" width="2" height="2"/><rect x="172.0" y="329.0" width="2" height="2"/><rect x="179.3" y="329.0" width="2" height="2"/><rect x="186.6" y="329.0" width="2" height="2"/><rect x="193.9" y="329.0" width="2" height="2"/><rect x="201.1" y="329.0" width="2" height="2"/><rect x="208.4" y="329.0" width="2" height="2"/><rect x="215.7" y="329.0" width="2" height="2"/><rect x="223.0" y="329.0" width="2" height="2"/><rect x="230.3" y="329.0" width="2" height="2"/><rect x="237.5" y="329.0" width="2" height="2"/><rect x="244.8" y="329.0" width="2" height="2"/><rect x="252.1" y="329.0" width="2" height="2"/><rect x="259.4" y="329.0" width="2" height="2"/><rect x="266.6" y="329.0" width="2" height="2"/><rect x="273.9" y="329.0" width="2" height="2"/><rect x="281.2" y="329.0" width="2" height="2"/><rect x="288.5" y="329.0" width="2" height="2"/><rect x="295.8" y="329.0" width="2" height="2"/><rect x="303.0" y="329.0" width="2" height="2"/><rect x="310.3" y="329.0" width="2" height="2"/><rect x="317.6" y="329.0" width="2" height="2"/><rect x="324.9" y="329.0" width="2" height="2"/><rect x="332.2" y="329.0" width="2" height="2"/><rect x="339.4" y="329.0" width="2" height="2"/><rect x="346.7" y="329.0" width="2" height="2"/><rect x="354.0" y="329.0" width="2" height="2"/><rect x="361.3" y="329.0" width="2" height="2"/><rect x="368.5" y="329.0" width="2" height="2"/><rect x="375.8" y="329.0" width="2" height="2"/><rect x="383.1" y="329.0" width="2" height="2"/><rect x="390.4" y="329.0" width="2" height="2"/><rect x="397.7" y="329.0" width="2" height="2"/><rect x="404.9" y="329.0" width="2" height="2"/><rect x="412.2" y="329.0" width="2" height="2"/><rect x="419.5" y="329.0" width="2" height="2"/><rect x="426.8" y="329.0" width="2" height="2"/><rect x="434.1" y="329.0" width="2" height="2"/><rect x="441.3" y="329.0" width="2" height="2"/><rect x="448.6" y="329.0" width="2" height="2"/><rect x="455.9" y="329.0" width="2" height="2"/><rect x="463.2" y="329.0" width="2" height="2"/><rect x="470.5" y="329.0" width="2" height="2"/><rect x="477.7" y="329.0" width="2" height="2"/><rect x="485.0" y="329.0" width="2" height="2"/><rect x="492.3" y="329.0" width="2" height="2"/><rect x="499.6" y="329.0" width="2" height="2"/><rect x="506.8" y="329.0" width="2" height="2"/><rect x="514.1" y="329.0" width="2" height="2"/><rect x="521.4" y="329.0" width="2" height="2"/><rect x="528.7" y="329.0" width="2" height="2"/><rect x="536.0" y="329.0" width="2" height="2"/><rect x="543.2" y="329.0" width="2" height="2"/><rect x="550.5" y="329.0" width="2" height="2"/><rect x="557.8" y="329.0" width="2" height="2"/></g>
<polyline points="42.0,320.1 49.3,320.1 56.6,320.1 63.8,320.1 71.1,320.1 78.4,320.1 85.7,320.2 93.0,320.2 100.2,320.2 107.5,320.2 114.8,320.3 122.1,320.3 129.3,320.3 136.6,320.4 143.9,320.4 151.2,320.4 158.5,320.4 165.7,320.5 173.0,320.5 180.3,320.6 187.6,320.6 194.9,320.6 202.1,320.7 209.4,320.7 216.7,320.7 224.0,320.8 231.3,320.8 238.5,320.9 245.8,320.9 253.1,321.0 260.4,321.1 267.6,321.1 274.9,321.2 282.2,321.3 289.5,321.4 296.8,321.5 304.0,321.6 311.3,321.8 318.6,321.9 325.9,322.1 333.2,322.2 340.4,322.4 347.7,322.6 355.0,322.9 362.3,323.1 369.5,323.4 376.8,323.7 384.1,324.0 391.4,324.4 398.7,324.9 405.9,325.4 413.2,325.9 420.5,326.4 427.8,326.9 435.1,327.3 442.3,327.7 449.6,328.0 456.9,328.4 464.2,328.8 471.5,329.1 478.7,329.3 486.0,329.5 493.3,329.5 500.6,329.6 507.8,329.6 515.1,329.7 522.4,329.7 529.7,329.7 537.0,329.8 544.2,329.8 551.5,329.8 558.8,329.8" fill="none" stroke="#83CAFF" stroke-width="0.45" stroke-linejoin="round"/>
<g fill="#83CAFF"><rect x="41.0" y="319.4" width="2" height="1.3"/><rect x="48.3" y="319.4" width="2" height="1.3"/><rect x="55.6" y="319.4" width="2" height="1.3"/><rect x="62.8" y="319.4" width="2" height="1.3"/><rect x="70.1" y="319.5" width="2" height="1.3"/><rect x="77.4" y="319.5" width="2" height="1.3"/><rect x="84.7" y="319.5" width="2" height="1.3"/><rect x="92.0" y="319.5" width="2" height="1.3"/><rect x="99.2" y="319.6" width="2" height="1.3"/><rect x="106.5" y="319.6" width="2" height="1.3"/><rect x="113.8" y="319.6" width="2" height="1.3"/><rect x="121.1" y="319.6" width="2" height="1.3"/><rect x="128.3" y="319.7" width="2" height="1.3"/><rect x="135.6" y="319.7" width="2" height="1.3"/><rect x="142.9" y="319.7" width="2" height="1.3"/><rect x="150.2" y="319.8" width="2" height="1.3"/><rect x="157.5" y="319.8" width="2" height="1.3"/><rect x="164.7" y="319.8" width="2" height="1.3"/><rect x="172.0" y="319.9" width="2" height="1.3"/><rect x="179.3" y="319.9" width="2" height="1.3"/><rect x="186.6" y="319.9" width="2" height="1.3"/><rect x="193.9" y="320.0" width="2" height="1.3"/><rect x="201.1" y="320.0" width="2" height="1.3"/><rect x="208.4" y="320.0" width="2" height="1.3"/><rect x="215.7" y="320.1" width="2" height="1.3"/><rect x="223.0" y="320.1" width="2" height="1.3"/><rect x="230.3" y="320.2" width="2" height="1.3"/><rect x="237.5" y="320.2" width="2" height="1.3"/><rect x="244.8" y="320.3" width="2" height="1.3"/><rect x="252.1" y="320.3" width="2" height="1.3"/><rect x="259.4" y="320.4" width="2" height="1.3"/><rect x="266.6" y="320.5" width="2" height="1.3"/><rect x="273.9" y="320.6" width="2" height="1.3"/><rect x="281.2" y="320.7" width="2" height="1.3"/><rect x="288.5" y="320.8" width="2" height="1.3"/><rect x="295.8" y="320.9" width="2" height="1.3"/><rect x="303.0" y="321.0" width="2" height="1.3"/><rect x="310.3" y="321.1" width="2" height="1.3"/><rect x="317.6" y="321.3" width="2" height="1.3"/><rect x="324.9" y="321.4" width="2" height="1.3"/><rect x="332.2" y="321.6" width="2" height="1.3"/><rect x="339.4" y="321.8" width="2" height="1.3"/><rect x="346.7" y="322.0" width="2" height="1.3"/><rect x="354.0" y="322.2" width="2" height="1.3"/><rect x="361.3" y="322.5" width="2" height="1.3"/><rect x="368.5" y="322.7" width="2" height="1.3"/><rect x="375.8" y="323.0" width="2" height="1.3"/><rect x="383.1" y="323.3" width="2" height="1.3"/><rect x="390.4" y="323.8" width="2" height="1.3"/><rect x="397.7" y="324.2" width="2" height="1.3"/><rect x="404.9" y="324.8" width="2" height="1.3"/><rect x="412.2" y="325.3" width="2" height="1.3"/><rect x="419.5" y="325.8" width="2" height="1.3"/><rect x="426.8" y="326.2" width="2" height="1.3"/><rect x="434.1" y="326.6" width="2" height="1.3"/><rect x="441.3" y="327.0" width="2" height="1.3"/><rect x="448.6" y="327.4" width="2" height="1.3"/><rect x="455.9" y="327.8" width="2" height="1.3"/><rect x="463.2" y="328.1" width="2" height="1.3"/><rect x="470.5" y="328.4" width="2" height="1.3"/><rect x="477.7" y="328.6" width="2" height="1.3"/><rect x="485.0" y="328.8" width="2" height="1.3"/><rect x="492.3" y="328.9" width="2" height="1.3"/><rect x="499.6" y="328.9" width="2" height="1.3"/><rect x="506.8" y="329.0" width="2" height="1.3"/><rect x="514.1" y="329.0" width="2" height="1.3"/><rect x="521.4" y="329.1" width="2" height="1.3"/><rect x="528.7" y="329.1" width="2" height="1.3"/><rect x="536.0" y="329.1" width="2" height="1.3"/><rect x="543.2" y="329.1" width="2" height="1.3"/><rect x="550.5" y="329.1" width="2" height="1.3"/><rect x="557.8" y="329.1" width="2" height="1.3"/></g>
<polyline points="42.0,322.5 49.3,322.6 56.6,322.6 63.8,322.7 71.1,322.7 78.4,322.8 85.7,322.8 93.0,322.9 100.2,323.0 107.5,323.1 114.8,323.1 122.1,323.2 129.3,323.3 136.6,323.4 143.9,323.5 151.2,323.7 158.5,323.8 165.7,323.9 173.0,324.0 180.3,324.2 187.6,324.3 194.9,324.3 202.1,324.4 209.4,324.5 216.7,324.5 224.0,324.6 231.3,324.6 238.5,324.7 245.8,324.7 253.1,324.7 260.4,324.8 267.6,324.9 274.9,324.9 282.2,325.0 289.5,325.0 296.8,325.1 304.0,325.2 311.3,325.3 318.6,325.4 325.9,325.5 333.2,325.8 340.4,326.2 347.7,326.7 355.0,327.2 362.3,327.6 369.5,328.0 376.8,328.4 384.1,328.6 391.4,328.9 398.7,329.1 405.9,329.3 413.2,329.4 420.5,329.5 427.8,329.5 435.1,329.5 442.3,329.6 449.6,329.6 456.9,329.6 464.2,329.6 471.5,329.6 478.7,329.6 486.0,329.7 493.3,329.7 500.6,329.7 507.8,329.7 515.1,329.7 522.4,329.7 529.7,329.7 537.0,329.7 544.2,329.7 551.5,329.7 558.8,329.7" fill="none" stroke="#FF420E" stroke-width="0.45" stroke-linejoin="round"/>
<g fill="#FF420E"><rect x="41" y="322.29" width="2" height="0.44"/><rect x="48.28" y="322.33" width="2" height="0.44"/><rect x="55.56" y="322.38" width="2" height="0.44"/><rect x="62.84" y="322.44" width="2" height="0.44"/><rect x="70.12" y="322.5" width="2" height="0.44"/><rect x="77.39" y="322.56" width="2" height="0.44"/><rect x="84.67" y="322.63" width="2" height="0.44"/><rect x="91.95" y="322.7" width="2" height="0.44"/><rect x="99.23" y="322.77" width="2" height="0.44"/><rect x="106.51" y="322.84" width="2" height="0.44"/><rect x="113.79" y="322.92" width="2" height="0.44"/><rect x="121.07" y="323" width="2" height="0.44"/><rect x="128.35" y="323.1" width="2" height="0.44"/><rect x="135.63" y="323.21" width="2" height="0.44"/><rect x="142.9" y="323.32" width="2" height="0.44"/><rect x="150.18" y="323.45" width="2" height="0.44"/><rect x="157.46" y="323.57" width="2" height="0.44"/><rect x="164.74" y="323.7" width="2" height="0.44"/><rect x="172.02" y="323.82" width="2" height="0.44"/><rect x="179.3" y="323.94" width="2" height="0.44"/><rect x="186.58" y="324.04" width="2" height="0.44"/><rect x="193.86" y="324.13" width="2" height="0.44"/><rect x="201.14" y="324.2" width="2" height="0.44"/><rect x="208.41" y="324.26" width="2" height="0.44"/><rect x="215.69" y="324.31" width="2" height="0.44"/><rect x="222.97" y="324.35" width="2" height="0.44"/><rect x="230.25" y="324.4" width="2" height="0.44"/><rect x="237.53" y="324.44" width="2" height="0.44"/><rect x="244.81" y="324.48" width="2" height="0.44"/><rect x="252.09" y="324.53" width="2" height="0.44"/><rect x="259.37" y="324.58" width="2" height="0.44"/><rect x="266.65" y="324.64" width="2" height="0.44"/><rect x="273.92" y="324.69" width="2" height="0.44"/><rect x="281.2" y="324.75" width="2" height="0.44"/><rect x="288.48" y="324.81" width="2" height="0.44"/><rect x="295.76" y="324.88" width="2" height="0.44"/><rect x="303.04" y="324.96" width="2" height="0.44"/><rect x="310.32" y="325.05" width="2" height="0.44"/><rect x="317.6" y="325.16" width="2" height="0.44"/><rect x="324.88" y="325.33" width="2" height="0.44"/><rect x="332.15" y="325.62" width="2" height="0.44"/><rect x="339.43" y="326.01" width="2" height="0.44"/><rect x="346.71" y="326.46" width="2" height="0.44"/><rect x="353.99" y="326.94" width="2" height="0.44"/><rect x="361.27" y="327.4" width="2" height="0.44"/><rect x="368.55" y="327.82" width="2" height="0.44"/><rect x="375.83" y="328.16" width="2" height="0.44"/><rect x="383.11" y="328.42" width="2" height="0.44"/><rect x="390.39" y="328.66" width="2" height="0.44"/><rect x="397.66" y="328.89" width="2" height="0.44"/><rect x="404.94" y="329.08" width="2" height="0.44"/><rect x="412.22" y="329.22" width="2" height="0.44"/><rect x="419.5" y="329.28" width="2" height="0.44"/><rect x="426.78" y="329.3" width="2" height="0.44"/><rect x="434.06" y="329.33" width="2" height="0.44"/><rect x="441.34" y="329.34" width="2" height="0.44"/><rect x="448.62" y="329.36" width="2" height="0.44"/><rect x="455.9" y="329.38" width="2" height="0.44"/><rect x="463.17" y="329.39" width="2" height="0.44"/><rect x="470.45" y="329.41" width="2" height="0.44"/><rect x="477.73" y="329.42" width="2" height="0.44"/><rect x="485.01" y="329.43" width="2" height="0.44"/><rect x="492.29" y="329.44" width="2" height="0.44"/><rect x="499.57" y="329.45" width="2" height="0.44"/><rect x="506.85" y="329.46" width="2" height="0.44"/><rect x="514.13" y="329.46" width="2" height="0.44"/><rect x="521.41" y="329.47" width="2" height="0.44"/><rect x="528.68" y="329.47" width="2" height="0.44"/><rect x="535.96" y="329.48" width="2" height="0.44"/><rect x="543.24" y="329.48" width="2" height="0.44"/><rect x="550.52" y="329.48" width="2" height="0.44"/><rect x="557.8" y="329.48" width="2" height="0.44"/></g>
<polyline points="42.0,328.7 49.3,328.7 56.6,328.7 63.8,328.7 71.1,328.7 78.4,328.6 85.7,328.6 93.0,328.6 100.2,328.6 107.5,328.6 114.8,328.6 122.1,328.6 129.3,328.6 136.6,328.6 143.9,328.6 151.2,328.6 158.5,328.5 165.7,328.5 173.0,328.5 180.3,328.5 187.6,328.5 194.9,328.5 202.1,328.5 209.4,328.5 216.7,328.5 224.0,328.5 231.3,328.5 238.5,328.5 245.8,328.5 253.1,328.4 260.4,328.4 267.6,328.4 274.9,328.4 282.2,328.4 289.5,328.4 296.8,328.4 304.0,328.4 311.3,328.4 318.6,328.4 325.9,328.4 333.2,328.4 340.4,328.4 347.7,328.5 355.0,328.5 362.3,328.5 369.5,328.5 376.8,328.6 384.1,328.6 391.4,328.7 398.7,328.7 405.9,328.8 413.2,328.9 420.5,329.0 427.8,329.1 435.1,329.1 442.3,329.2 449.6,329.3 456.9,329.4 464.2,329.6 471.5,329.7 478.7,329.8 486.0,329.9 493.3,330.0 500.6,330.0 507.8,330.0 515.1,330.0 522.4,330.1 529.7,330.1 537.0,330.1 544.2,330.1 551.5,330.1 558.8,330.1" fill="none" stroke="#FF950E" stroke-width="0.45" stroke-linejoin="round"/>
<g fill="#FF950E"><path d="M41 327.7L43 329.7L43 327.7L41 329.7Z"/><path d="M48.28 327.69L50.28 329.69L50.28 327.69L48.28 329.69Z"/><path d="M55.56 327.68L57.56 329.68L57.56 327.68L55.56 329.68Z"/><path d="M62.84 327.67L64.84 329.67L64.84 327.67L62.84 329.67Z"/><path d="M70.12 327.66L72.12 329.66L72.12 327.66L70.12 329.66Z"/><path d="M77.39 327.65L79.39 329.65L79.39 327.65L77.39 329.65Z"/><path d="M84.67 327.64L86.67 329.64L86.67 327.64L84.67 329.64Z"/><path d="M91.95 327.63L93.95 329.63L93.95 327.63L91.95 329.63Z"/><path d="M99.23 327.62L101.23 329.62L101.23 327.62L99.23 329.62Z"/><path d="M106.51 327.61L108.51 329.61L108.51 327.61L106.51 329.61Z"/><path d="M113.79 327.6L115.79 329.6L115.79 327.6L113.79 329.6Z"/><path d="M121.07 327.59L123.07 329.59L123.07 327.59L121.07 329.59Z"/><path d="M128.35 327.58L130.35 329.58L130.35 327.58L128.35 329.58Z"/><path d="M135.63 327.57L137.63 329.57L137.63 327.57L135.63 329.57Z"/><path d="M142.9 327.56L144.9 329.56L144.9 327.56L142.9 329.56Z"/><path d="M150.18 327.55L152.18 329.55L152.18 327.55L150.18 329.55Z"/><path d="M157.46 327.54L159.46 329.54L159.46 327.54L157.46 329.54Z"/><path d="M164.74 327.54L166.74 329.54L166.74 327.54L164.74 329.54Z"/><path d="M172.02 327.53L174.02 329.53L174.02 327.53L172.02 329.53Z"/><path d="M179.3 327.52L181.3 329.52L181.3 327.52L179.3 329.52Z"/><path d="M186.58 327.51L188.58 329.51L188.58 327.51L186.58 329.51Z"/><path d="M193.86 327.51L195.86 329.51L195.86 327.51L193.86 329.51Z"/><path d="M201.14 327.5L203.14 329.5L203.14 327.5L201.14 329.5Z"/><path d="M208.41 327.49L210.41 329.49L210.41 327.49L208.41 329.49Z"/><path d="M215.69 327.48L217.69 329.48L217.69 327.48L215.69 329.48Z"/><path d="M222.97 327.47L224.97 329.47L224.97 327.47L222.97 329.47Z"/><path d="M230.25 327.47L232.25 329.47L232.25 327.47L230.25 329.47Z"/><path d="M237.53 327.46L239.53 329.46L239.53 327.46L237.53 329.46Z"/><path d="M244.81 327.45L246.81 329.45L246.81 327.45L244.81 329.45Z"/><path d="M252.09 327.44L254.09 329.44L254.09 327.44L252.09 329.44Z"/><path d="M259.37 327.43L261.37 329.43L261.37 327.43L259.37 329.43Z"/><path d="M266.65 327.43L268.65 329.43L268.65 327.43L266.65 329.43Z"/><path d="M273.92 327.42L275.92 329.42L275.92 327.42L273.92 329.42Z"/><path d="M281.2 327.42L283.2 329.42L283.2 327.42L281.2 329.42Z"/><path d="M288.48 327.41L290.48 329.41L290.48 327.41L288.48 329.41Z"/><path d="M295.76 327.41L297.76 329.41L297.76 327.41L295.76 329.41Z"/><path d="M303.04 327.4L305.04 329.4L305.04 327.4L303.04 329.4Z"/><path d="M310.32 327.4L312.32 329.4L312.32 327.4L310.32 329.4Z"/><path d="M317.6 327.4L319.6 329.4L319.6 327.4L317.6 329.4Z"/><path d="M324.88 327.4L326.88 329.4L326.88 327.4L324.88 329.4Z"/><path d="M332.15 327.41L334.15 329.41L334.15 327.41L332.15 329.41Z"/><path d="M339.43 327.43L341.43 329.43L341.43 327.43L339.43 329.43Z"/><path d="M346.71 327.45L348.71 329.45L348.71 327.45L346.71 329.45Z"/><path d="M353.99 327.48L355.99 329.48L355.99 327.48L353.99 329.48Z"/><path d="M361.27 327.51L363.27 329.51L363.27 327.51L361.27 329.51Z"/><path d="M368.55 327.55L370.55 329.55L370.55 327.55L368.55 329.55Z"/><path d="M375.83 327.58L377.83 329.58L377.83 327.58L375.83 329.58Z"/><path d="M383.11 327.62L385.11 329.62L385.11 327.62L383.11 329.62Z"/><path d="M390.39 327.67L392.39 329.67L392.39 327.67L390.39 329.67Z"/><path d="M397.66 327.74L399.66 329.74L399.66 327.74L397.66 329.74Z"/><path d="M404.94 327.81L406.94 329.81L406.94 327.81L404.94 329.81Z"/><path d="M412.22 327.89L414.22 329.89L414.22 327.89L412.22 329.89Z"/><path d="M419.5 327.97L421.5 329.97L421.5 327.97L419.5 329.97Z"/><path d="M426.78 328.06L428.78 330.06L428.78 328.06L426.78 330.06Z"/><path d="M434.06 328.14L436.06 330.14L436.06 328.14L434.06 330.14Z"/><path d="M441.34 328.23L443.34 330.23L443.34 328.23L441.34 330.23Z"/><path d="M448.62 328.33L450.62 330.33L450.62 328.33L448.62 330.33Z"/><path d="M455.9 328.44L457.9 330.44L457.9 328.44L455.9 330.44Z"/><path d="M463.17 328.57L465.17 330.57L465.17 328.57L463.17 330.57Z"/><path d="M470.45 328.69L472.45 330.69L472.45 328.69L470.45 330.69Z"/><path d="M477.73 328.8L479.73 330.8L479.73 328.8L477.73 330.8Z"/><path d="M485.01 328.89L487.01 330.89L487.01 328.89L485.01 330.89Z"/><path d="M492.29 328.96L494.29 330.96L494.29 328.96L492.29 330.96Z"/><path d="M499.57 329L501.57 331L501.57 329L499.57 331Z"/><path d="M506.85 329.02L508.85 331.02L508.85 329.02L506.85 331.02Z"/><path d="M514.13 329.04L516.13 331.04L516.13 329.04L514.13 331.04Z"/><path d="M521.41 329.06L523.41 331.06L523.41 329.06L521.41 331.06Z"/><path d="M528.68 329.07L530.68 331.07L530.68 329.07L528.68 331.07Z"/><path d="M535.96 329.08L537.96 331.08L537.96 329.08L535.96 331.08Z"/><path d="M543.24 329.09L545.24 331.09L545.24 329.09L543.24 331.09Z"/><path d="M550.52 329.1L552.52 331.1L552.52 329.1L550.52 331.1Z"/><path d="M557.8 329.1L559.8 331.1L559.8 329.1L557.8 331.1Z"/></g>
<polyline points="42.0,327.8 49.3,327.8 56.6,327.8 63.8,327.8 71.1,327.8 78.4,327.8 85.7,327.8 93.0,327.8 100.2,327.8 107.5,327.8 114.8,327.9 122.1,327.9 129.3,327.9 136.6,327.9 143.9,327.9 151.2,327.9 158.5,327.9 165.7,327.9 173.0,328.0 180.3,328.0 187.6,328.0 194.9,328.0 202.1,328.0 209.4,328.0 216.7,328.0 224.0,328.1 231.3,328.1 238.5,328.1 245.8,328.1 253.1,328.1 260.4,328.2 267.6,328.2 274.9,328.2 282.2,328.2 289.5,328.3 296.8,328.3 304.0,328.3 311.3,328.4 318.6,328.4 325.9,328.4 333.2,328.5 340.4,328.5 347.7,328.6 355.0,328.6 362.3,328.7 369.5,328.7 376.8,328.8 384.1,328.8 391.4,328.9 398.7,328.9 405.9,329.0 413.2,329.1 420.5,329.1 427.8,329.2 435.1,329.3 442.3,329.3 449.6,329.4 456.9,329.5 464.2,329.6 471.5,329.7 478.7,329.7 486.0,329.8 493.3,329.9 500.6,329.9 507.8,329.9 515.1,329.9 522.4,330.0 529.7,330.0 537.0,330.0 544.2,330.0 551.5,330.0 558.8,330.0" fill="none" stroke="#FFD320" stroke-width="0.45" stroke-linejoin="round"/>
<g fill="#FFD320"><rect x="41.75" y="326.8" width="0.5" height="2"/><rect x="49.03" y="326.8" width="0.5" height="2"/><rect x="56.31" y="326.8" width="0.5" height="2"/><rect x="63.59" y="326.81" width="0.5" height="2"/><rect x="70.87" y="326.81" width="0.5" height="2"/><rect x="78.14" y="326.82" width="0.5" height="2"/><rect x="85.42" y="326.82" width="0.5" height="2"/><rect x="92.7" y="326.83" width="0.5" height="2"/><rect x="99.98" y="326.84" width="0.5" height="2"/><rect x="107.26" y="326.85" width="0.5" height="2"/><rect x="114.54" y="326.86" width="0.5" height="2"/><rect x="121.82" y="326.87" width="0.5" height="2"/><rect x="129.1" y="326.88" width="0.5" height="2"/><rect x="136.38" y="326.89" width="0.5" height="2"/><rect x="143.65" y="326.9" width="0.5" height="2"/><rect x="150.93" y="326.91" width="0.5" height="2"/><rect x="158.21" y="326.92" width="0.5" height="2"/><rect x="165.49" y="326.94" width="0.5" height="2"/><rect x="172.77" y="326.95" width="0.5" height="2"/><rect x="180.05" y="326.96" width="0.5" height="2"/><rect x="187.33" y="326.98" width="0.5" height="2"/><rect x="194.61" y="326.99" width="0.5" height="2"/><rect x="201.89" y="327" width="0.5" height="2"/><rect x="209.16" y="327.02" width="0.5" height="2"/><rect x="216.44" y="327.03" width="0.5" height="2"/><rect x="223.72" y="327.05" width="0.5" height="2"/><rect x="231" y="327.07" width="0.5" height="2"/><rect x="238.28" y="327.09" width="0.5" height="2"/><rect x="245.56" y="327.11" width="0.5" height="2"/><rect x="252.84" y="327.14" width="0.5" height="2"/><rect x="260.12" y="327.16" width="0.5" height="2"/><rect x="267.4" y="327.19" width="0.5" height="2"/><rect x="274.67" y="327.21" width="0.5" height="2"/><rect x="281.95" y="327.24" width="0.5" height="2"/><rect x="289.23" y="327.27" width="0.5" height="2"/><rect x="296.51" y="327.3" width="0.5" height="2"/><rect x="303.79" y="327.33" width="0.5" height="2"/><rect x="311.07" y="327.36" width="0.5" height="2"/><rect x="318.35" y="327.39" width="0.5" height="2"/><rect x="325.63" y="327.43" width="0.5" height="2"/><rect x="332.9" y="327.47" width="0.5" height="2"/><rect x="340.18" y="327.51" width="0.5" height="2"/><rect x="347.46" y="327.56" width="0.5" height="2"/><rect x="354.74" y="327.61" width="0.5" height="2"/><rect x="362.02" y="327.67" width="0.5" height="2"/><rect x="369.3" y="327.72" width="0.5" height="2"/><rect x="376.58" y="327.78" width="0.5" height="2"/><rect x="383.86" y="327.83" width="0.5" height="2"/><rect x="391.14" y="327.89" width="0.5" height="2"/><rect x="398.41" y="327.94" width="0.5" height="2"/><rect x="405.69" y="328" width="0.5" height="2"/><rect x="412.97" y="328.06" width="0.5" height="2"/><rect x="420.25" y="328.13" width="0.5" height="2"/><rect x="427.53" y="328.19" width="0.5" height="2"/><rect x="434.81" y="328.26" width="0.5" height="2"/><rect x="442.09" y="328.32" width="0.5" height="2"/><rect x="449.37" y="328.4" width="0.5" height="2"/><rect x="456.65" y="328.49" width="0.5" height="2"/><rect x="463.92" y="328.58" width="0.5" height="2"/><rect x="471.2" y="328.66" width="0.5" height="2"/><rect x="478.48" y="328.75" width="0.5" height="2"/><rect x="485.76" y="328.82" width="0.5" height="2"/><rect x="493.04" y="328.87" width="0.5" height="2"/><rect x="500.32" y="328.9" width="0.5" height="2"/><rect x="507.6" y="328.92" width="0.5" height="2"/><rect x="514.88" y="328.94" width="0.5" height="2"/><rect x="522.16" y="328.96" width="0.5" height="2"/><rect x="529.43" y="328.97" width="0.5" height="2"/><rect x="536.71" y="328.98" width="0.5" height="2"/><rect x="543.99" y="328.99" width="0.5" height="2"/><rect x="551.27" y="329" width="0.5" height="2"/><rect x="558.55" y="329" width="0.5" height="2"/></g>
<polyline points="42.0,319.5 49.3,319.5 56.6,319.5 63.8,319.5 71.1,319.6 78.4,319.6 85.7,319.6 93.0,319.6 100.2,319.7 107.5,319.7 114.8,319.7 122.1,319.7 129.3,319.8 136.6,319.8 143.9,319.8 151.2,319.9 158.5,319.9 165.7,319.9 173.0,320.0 180.3,320.0 187.6,320.0 194.9,320.1 202.1,320.1 209.4,320.1 216.7,320.2 224.0,320.2 231.3,320.3 238.5,320.3 245.8,320.4 253.1,320.4 260.4,320.5 267.6,320.6 274.9,320.7 282.2,320.8 289.5,320.9 296.8,321.0 304.0,321.1 311.3,321.2 318.6,321.4 325.9,321.5 333.2,321.7 340.4,321.9 347.7,322.1 355.0,322.3 362.3,322.5 369.5,322.7 376.8,323.0 384.1,323.3 391.4,323.6 398.7,324.1 405.9,324.5 413.2,324.9 420.5,325.4 427.8,325.7 435.1,326.0 442.3,326.3 449.6,326.5 456.9,326.8 464.2,327.0 471.5,327.2 478.7,327.4 486.0,327.5 493.3,327.7 500.6,327.8 507.8,327.9 515.1,328.0 522.4,328.1 529.7,328.2 537.0,328.3 544.2,328.4 551.5,328.5 558.8,328.5" fill="none" stroke="#83CAFF" stroke-width="0.45" stroke-linejoin="round"/>
<g fill="#83CAFF"><rect x="41.0" y="318.9" width="2" height="1.3"/><rect x="48.3" y="318.9" width="2" height="1.3"/><rect x="55.6" y="318.9" width="2" height="1.3"/><rect x="62.8" y="318.9" width="2" height="1.3"/><rect x="70.1" y="318.9" width="2" height="1.3"/><rect x="77.4" y="318.9" width="2" height="1.3"/><rect x="84.7" y="319.0" width="2" height="1.3"/><rect x="92.0" y="319.0" width="2" height="1.3"/><rect x="99.2" y="319.0" width="2" height="1.3"/><rect x="106.5" y="319.0" width="2" height="1.3"/><rect x="113.8" y="319.1" width="2" height="1.3"/><rect x="121.1" y="319.1" width="2" height="1.3"/><rect x="128.3" y="319.1" width="2" height="1.3"/><rect x="135.6" y="319.2" width="2" height="1.3"/><rect x="142.9" y="319.2" width="2" height="1.3"/><rect x="150.2" y="319.2" width="2" height="1.3"/><rect x="157.5" y="319.2" width="2" height="1.3"/><rect x="164.7" y="319.3" width="2" height="1.3"/><rect x="172.0" y="319.3" width="2" height="1.3"/><rect x="179.3" y="319.4" width="2" height="1.3"/><rect x="186.6" y="319.4" width="2" height="1.3"/><rect x="193.9" y="319.4" width="2" height="1.3"/><rect x="201.1" y="319.5" width="2" height="1.3"/><rect x="208.4" y="319.5" width="2" height="1.3"/><rect x="215.7" y="319.5" width="2" height="1.3"/><rect x="223.0" y="319.6" width="2" height="1.3"/><rect x="230.3" y="319.6" width="2" height="1.3"/><rect x="237.5" y="319.7" width="2" height="1.3"/><rect x="244.8" y="319.7" width="2" height="1.3"/><rect x="252.1" y="319.8" width="2" height="1.3"/><rect x="259.4" y="319.9" width="2" height="1.3"/><rect x="266.6" y="319.9" width="2" height="1.3"/><rect x="273.9" y="320.0" width="2" height="1.3"/><rect x="281.2" y="320.1" width="2" height="1.3"/><rect x="288.5" y="320.2" width="2" height="1.3"/><rect x="295.8" y="320.3" width="2" height="1.3"/><rect x="303.0" y="320.5" width="2" height="1.3"/><rect x="310.3" y="320.6" width="2" height="1.3"/><rect x="317.6" y="320.7" width="2" height="1.3"/><rect x="324.9" y="320.9" width="2" height="1.3"/><rect x="332.2" y="321.0" width="2" height="1.3"/><rect x="339.4" y="321.2" width="2" height="1.3"/><rect x="346.7" y="321.4" width="2" height="1.3"/><rect x="354.0" y="321.6" width="2" height="1.3"/><rect x="361.3" y="321.8" width="2" height="1.3"/><rect x="368.5" y="322.1" width="2" height="1.3"/><rect x="375.8" y="322.3" width="2" height="1.3"/><rect x="383.1" y="322.6" width="2" height="1.3"/><rect x="390.4" y="323.0" width="2" height="1.3"/><rect x="397.7" y="323.4" width="2" height="1.3"/><rect x="404.9" y="323.8" width="2" height="1.3"/><rect x="412.2" y="324.3" width="2" height="1.3"/><rect x="419.5" y="324.7" width="2" height="1.3"/><rect x="426.8" y="325.1" width="2" height="1.3"/><rect x="434.1" y="325.3" width="2" height="1.3"/><rect x="441.3" y="325.6" width="2" height="1.3"/><rect x="448.6" y="325.9" width="2" height="1.3"/><rect x="455.9" y="326.1" width="2" height="1.3"/><rect x="463.2" y="326.3" width="2" height="1.3"/><rect x="470.5" y="326.5" width="2" height="1.3"/><rect x="477.7" y="326.7" width="2" height="1.3"/><rect x="485.0" y="326.9" width="2" height="1.3"/><rect x="492.3" y="327.0" width="2" height="1.3"/><rect x="499.6" y="327.1" width="2" height="1.3"/><rect x="506.8" y="327.3" width="2" height="1.3"/><rect x="514.1" y="327.4" width="2" height="1.3"/><rect x="521.4" y="327.5" width="2" height="1.3"/><rect x="528.7" y="327.6" width="2" height="1.3"/><rect x="536.0" y="327.7" width="2" height="1.3"/><rect x="543.2" y="327.8" width="2" height="1.3"/><rect x="550.5" y="327.8" width="2" height="1.3"/><rect x="557.8" y="327.8" width="2" height="1.3"/></g>
<polyline points="42.0,312.3 49.3,312.3 56.6,312.3 63.8,312.4 71.1,312.4 78.4,312.5 85.7,312.5 93.0,312.6 100.2,312.6 107.5,312.7 114.8,312.8 122.1,312.8 129.3,312.9 136.6,313.0 143.9,313.1 151.2,313.2 158.5,313.3 165.7,313.5 173.0,313.6 180.3,313.8 187.6,313.9 194.9,314.1 202.1,314.3 209.4,314.5 216.7,314.8 224.0,315.0 231.3,315.3 238.5,315.5 245.8,315.8 253.1,316.1 260.4,316.5 267.6,316.8 274.9,317.2 282.2,317.7 289.5,318.2 296.8,318.9 304.0,319.6 311.3,320.4 318.6,321.2 325.9,322.3 333.2,323.4 340.4,324.5 347.7,325.7 355.0,326.6 362.3,327.3 369.5,327.9 376.8,328.3 384.1,328.6 391.4,328.9 398.7,329.1 405.9,329.3 413.2,329.4 420.5,329.5 427.8,329.5 435.1,329.6 442.3,329.6 449.6,329.6 456.9,329.6 464.2,329.7 471.5,329.7 478.7,329.7 486.0,329.7 493.3,329.7 500.6,329.8 507.8,329.8 515.1,329.8 522.4,329.8 529.7,329.8 537.0,329.8 544.2,329.8 551.5,329.8 558.8,329.8" fill="none" stroke="#FF950E" stroke-width="0.7" stroke-linejoin="round"/>
<g fill="#FF950E"><rect x="41.65" y="311.1" width=".7" height="2.4"/><rect x="48.93" y="311.1" width=".7" height="2.4"/><rect x="56.21" y="311.1" width=".7" height="2.4"/><rect x="63.49" y="311.2" width=".7" height="2.4"/><rect x="70.77" y="311.2" width=".7" height="2.4"/><rect x="78.04" y="311.3" width=".7" height="2.4"/><rect x="85.32" y="311.3" width=".7" height="2.4"/><rect x="92.60" y="311.4" width=".7" height="2.4"/><rect x="99.88" y="311.4" width=".7" height="2.4"/><rect x="107.16" y="311.5" width=".7" height="2.4"/><rect x="114.44" y="311.6" width=".7" height="2.4"/><rect x="121.72" y="311.6" width=".7" height="2.4"/><rect x="129.00" y="311.7" width=".7" height="2.4"/><rect x="136.28" y="311.8" width=".7" height="2.4"/><rect x="143.55" y="311.9" width=".7" height="2.4"/><rect x="150.83" y="312.0" width=".7" height="2.4"/><rect x="158.11" y="312.1" width=".7" height="2.4"/><rect x="165.39" y="312.3" width=".7" height="2.4"/><rect x="172.67" y="312.4" width=".7" height="2.4"/><rect x="179.95" y="312.6" width=".7" height="2.4"/><rect x="187.23" y="312.7" width=".7" height="2.4"/><rect x="194.51" y="312.9" width=".7" height="2.4"/><rect x="201.79" y="313.1" width=".7" height="2.4"/><rect x="209.06" y="313.3" width=".7" height="2.4"/><rect x="216.34" y="313.6" width=".7" height="2.4"/><rect x="223.62" y="313.8" width=".7" height="2.4"/><rect x="230.90" y="314.1" width=".7" height="2.4"/><rect x="238.18" y="314.3" width=".7" height="2.4"/><rect x="245.46" y="314.6" width=".7" height="2.4"/><rect x="252.74" y="314.9" width=".7" height="2.4"/><rect x="260.02" y="315.3" width=".7" height="2.4"/><rect x="267.30" y="315.6" width=".7" height="2.4"/><rect x="274.57" y="316.0" width=".7" height="2.4"/><rect x="281.85" y="316.5" width=".7" height="2.4"/><rect x="289.13" y="317.0" width=".7" height="2.4"/><rect x="296.41" y="317.7" width=".7" height="2.4"/><rect x="303.69" y="318.4" width=".7" height="2.4"/><rect x="310.97" y="319.2" width=".7" height="2.4"/><rect x="318.25" y="320.0" width=".7" height="2.4"/><rect x="325.53" y="321.1" width=".7" height="2.4"/><rect x="332.80" y="322.2" width=".7" height="2.4"/><rect x="340.08" y="323.3" width=".7" height="2.4"/><rect x="347.36" y="324.5" width=".7" height="2.4"/><rect x="354.64" y="325.4" width=".7" height="2.4"/><rect x="361.92" y="326.1" width=".7" height="2.4"/><rect x="369.20" y="326.7" width=".7" height="2.4"/><rect x="376.48" y="327.1" width=".7" height="2.4"/><rect x="383.76" y="327.4" width=".7" height="2.4"/><rect x="391.04" y="327.7" width=".7" height="2.4"/><rect x="398.31" y="327.9" width=".7" height="2.4"/><rect x="405.59" y="328.1" width=".7" height="2.4"/><rect x="412.87" y="328.2" width=".7" height="2.4"/><rect x="420.15" y="328.3" width=".7" height="2.4"/><rect x="427.43" y="328.3" width=".7" height="2.4"/><rect x="434.71" y="328.4" width=".7" height="2.4"/><rect x="441.99" y="328.4" width=".7" height="2.4"/><rect x="449.27" y="328.4" width=".7" height="2.4"/><rect x="456.55" y="328.4" width=".7" height="2.4"/><rect x="463.82" y="328.5" width=".7" height="2.4"/><rect x="471.10" y="328.5" width=".7" height="2.4"/><rect x="478.38" y="328.5" width=".7" height="2.4"/><rect x="485.66" y="328.5" width=".7" height="2.4"/><rect x="492.94" y="328.5" width=".7" height="2.4"/><rect x="500.22" y="328.6" width=".7" height="2.4"/><rect x="507.50" y="328.6" width=".7" height="2.4"/><rect x="514.78" y="328.6" width=".7" height="2.4"/><rect x="522.06" y="328.6" width=".7" height="2.4"/><rect x="529.33" y="328.6" width=".7" height="2.4"/><rect x="536.61" y="328.6" width=".7" height="2.4"/><rect x="543.89" y="328.6" width=".7" height="2.4"/><rect x="551.17" y="328.6" width=".7" height="2.4"/><rect x="558.45" y="328.6" width=".7" height="2.4"/></g>
<polyline points="42.0,323.2 49.3,323.2 56.6,323.2 63.8,323.2 71.1,323.2 78.4,323.2 85.7,323.3 93.0,323.3 100.2,323.3 107.5,323.3 114.8,323.3 122.1,323.3 129.3,323.4 136.6,323.4 143.9,323.4 151.2,323.4 158.5,323.5 165.7,323.5 173.0,323.5 180.3,323.5 187.6,323.6 194.9,323.6 202.1,323.6 209.4,323.6 216.7,323.7 224.0,323.7 231.3,323.7 238.5,323.8 245.8,323.8 253.1,323.9 260.4,323.9 267.6,323.9 274.9,324.0 282.2,324.0 289.5,324.1 296.8,324.1 304.0,324.2 311.3,324.2 318.6,324.3 325.9,324.4 333.2,324.5 340.4,324.6 347.7,324.8 355.0,325.0 362.3,325.1 369.5,325.3 376.8,325.5 384.1,325.7 391.4,325.9 398.7,326.1 405.9,326.3 413.2,326.5 420.5,326.7 427.8,327.0 435.1,327.2 442.3,327.4 449.6,327.6 456.9,327.8 464.2,328.0 471.5,328.2 478.7,328.4 486.0,328.6 493.3,328.7 500.6,328.8 507.8,328.9 515.1,329.0 522.4,329.1 529.7,329.1 537.0,329.2 544.2,329.3 551.5,329.3 558.8,329.3" fill="none" stroke="#C5000B" stroke-width="0.45" stroke-linejoin="round"/>
<g fill="#C5000B"><rect x="41.0" y="322.2" width="2" height="2"/><rect x="48.3" y="322.2" width="2" height="2"/><rect x="55.6" y="322.2" width="2" height="2"/><rect x="62.8" y="322.2" width="2" height="2"/><rect x="70.1" y="322.2" width="2" height="2"/><rect x="77.4" y="322.2" width="2" height="2"/><rect x="84.7" y="322.3" width="2" height="2"/><rect x="92.0" y="322.3" width="2" height="2"/><rect x="99.2" y="322.3" width="2" height="2"/><rect x="106.5" y="322.3" width="2" height="2"/><rect x="113.8" y="322.3" width="2" height="2"/><rect x="121.1" y="322.3" width="2" height="2"/><rect x="128.3" y="322.4" width="2" height="2"/><rect x="135.6" y="322.4" width="2" height="2"/><rect x="142.9" y="322.4" width="2" height="2"/><rect x="150.2" y="322.4" width="2" height="2"/><rect x="157.5" y="322.5" width="2" height="2"/><rect x="164.7" y="322.5" width="2" height="2"/><rect x="172.0" y="322.5" width="2" height="2"/><rect x="179.3" y="322.5" width="2" height="2"/><rect x="186.6" y="322.6" width="2" height="2"/><rect x="193.9" y="322.6" width="2" height="2"/><rect x="201.1" y="322.6" width="2" height="2"/><rect x="208.4" y="322.6" width="2" height="2"/><rect x="215.7" y="322.7" width="2" height="2"/><rect x="223.0" y="322.7" width="2" height="2"/><rect x="230.3" y="322.7" width="2" height="2"/><rect x="237.5" y="322.8" width="2" height="2"/><rect x="244.8" y="322.8" width="2" height="2"/><rect x="252.1" y="322.9" width="2" height="2"/><rect x="259.4" y="322.9" width="2" height="2"/><rect x="266.6" y="322.9" width="2" height="2"/><rect x="273.9" y="323.0" width="2" height="2"/><rect x="281.2" y="323.0" width="2" height="2"/><rect x="288.5" y="323.1" width="2" height="2"/><rect x="295.8" y="323.1" width="2" height="2"/><rect x="303.0" y="323.2" width="2" height="2"/><rect x="310.3" y="323.2" width="2" height="2"/><rect x="317.6" y="323.3" width="2" height="2"/><rect x="324.9" y="323.4" width="2" height="2"/><rect x="332.2" y="323.5" width="2" height="2"/><rect x="339.4" y="323.6" width="2" height="2"/><rect x="346.7" y="323.8" width="2" height="2"/><rect x="354.0" y="324.0" width="2" height="2"/><rect x="361.3" y="324.1" width="2" height="2"/><rect x="368.5" y="324.3" width="2" height="2"/><rect x="375.8" y="324.5" width="2" height="2"/><rect x="383.1" y="324.7" width="2" height="2"/><rect x="390.4" y="324.9" width="2" height="2"/><rect x="397.7" y="325.1" width="2" height="2"/><rect x="404.9" y="325.3" width="2" height="2"/><rect x="412.2" y="325.5" width="2" height="2"/><rect x="419.5" y="325.7" width="2" height="2"/><rect x="426.8" y="326.0" width="2" height="2"/><rect x="434.1" y="326.2" width="2" height="2"/><rect x="441.3" y="326.4" width="2" height="2"/><rect x="448.6" y="326.6" width="2" height="2"/><rect x="455.9" y="326.8" width="2" height="2"/><rect x="463.2" y="327.0" width="2" height="2"/><rect x="470.5" y="327.2" width="2" height="2"/><rect x="477.7" y="327.4" width="2" height="2"/><rect x="485.0" y="327.6" width="2" height="2"/><rect x="492.3" y="327.7" width="2" height="2"/><rect x="499.6" y="327.8" width="2" height="2"/><rect x="506.8" y="327.9" width="2" height="2"/><rect x="514.1" y="328.0" width="2" height="2"/><rect x="521.4" y="328.1" width="2" height="2"/><rect x="528.7" y="328.1" width="2" height="2"/><rect x="536.0" y="328.2" width="2" height="2"/><rect x="543.2" y="328.3" width="2" height="2"/><rect x="550.5" y="328.3" width="2" height="2"/><rect x="557.8" y="328.3" width="2" height="2"/></g>
<polyline points="42.0,323.0 49.3,323.0 56.6,323.0 63.8,323.0 71.1,323.1 78.4,323.1 85.7,323.1 93.0,323.1 100.2,323.1 107.5,323.1 114.8,323.2 122.1,323.2 129.3,323.2 136.6,323.2 143.9,323.2 151.2,323.3 158.5,323.3 165.7,323.3 173.0,323.3 180.3,323.3 187.6,323.4 194.9,323.4 202.1,323.4 209.4,323.4 216.7,323.5 224.0,323.5 231.3,323.5 238.5,323.5 245.8,323.6 253.1,323.6 260.4,323.6 267.6,323.6 274.9,323.6 282.2,323.7 289.5,323.7 296.8,323.7 304.0,323.7 311.3,323.8 318.6,323.8 325.9,323.8 333.2,323.9 340.4,324.0 347.7,324.1 355.0,324.2 362.3,324.3 369.5,324.4 376.8,324.5 384.1,324.7 391.4,324.8 398.7,325.0 405.9,325.1 413.2,325.3 420.5,325.4 427.8,325.6 435.1,325.8 442.3,326.0 449.6,326.1 456.9,326.3 464.2,326.5 471.5,326.7 478.7,326.9 486.0,327.1 493.3,327.2 500.6,327.3 507.8,327.4 515.1,327.5 522.4,327.6 529.7,327.6 537.0,327.7 544.2,327.7 551.5,327.8 558.8,327.8" fill="none" stroke="#C5000B" stroke-width="0.7" stroke-linejoin="round"/>
<g fill="#C5000B"><rect x="41.0" y="322.0" width="2" height="2"/><rect x="48.3" y="322.0" width="2" height="2"/><rect x="55.6" y="322.0" width="2" height="2"/><rect x="62.8" y="322.0" width="2" height="2"/><rect x="70.1" y="322.1" width="2" height="2"/><rect x="77.4" y="322.1" width="2" height="2"/><rect x="84.7" y="322.1" width="2" height="2"/><rect x="92.0" y="322.1" width="2" height="2"/><rect x="99.2" y="322.1" width="2" height="2"/><rect x="106.5" y="322.1" width="2" height="2"/><rect x="113.8" y="322.2" width="2" height="2"/><rect x="121.1" y="322.2" width="2" height="2"/><rect x="128.3" y="322.2" width="2" height="2"/><rect x="135.6" y="322.2" width="2" height="2"/><rect x="142.9" y="322.2" width="2" height="2"/><rect x="150.2" y="322.3" width="2" height="2"/><rect x="157.5" y="322.3" width="2" height="2"/><rect x="164.7" y="322.3" width="2" height="2"/><rect x="172.0" y="322.3" width="2" height="2"/><rect x="179.3" y="322.3" width="2" height="2"/><rect x="186.6" y="322.4" width="2" height="2"/><rect x="193.9" y="322.4" width="2" height="2"/><rect x="201.1" y="322.4" width="2" height="2"/><rect x="208.4" y="322.4" width="2" height="2"/><rect x="215.7" y="322.5" width="2" height="2"/><rect x="223.0" y="322.5" width="2" height="2"/><rect x="230.3" y="322.5" width="2" height="2"/><rect x="237.5" y="322.5" width="2" height="2"/><rect x="244.8" y="322.6" width="2" height="2"/><rect x="252.1" y="322.6" width="2" height="2"/><rect x="259.4" y="322.6" width="2" height="2"/><rect x="266.6" y="322.6" width="2" height="2"/><rect x="273.9" y="322.6" width="2" height="2"/><rect x="281.2" y="322.7" width="2" height="2"/><rect x="288.5" y="322.7" width="2" height="2"/><rect x="295.8" y="322.7" width="2" height="2"/><rect x="303.0" y="322.7" width="2" height="2"/><rect x="310.3" y="322.8" width="2" height="2"/><rect x="317.6" y="322.8" width="2" height="2"/><rect x="324.9" y="322.8" width="2" height="2"/><rect x="332.2" y="322.9" width="2" height="2"/><rect x="339.4" y="323.0" width="2" height="2"/><rect x="346.7" y="323.1" width="2" height="2"/><rect x="354.0" y="323.2" width="2" height="2"/><rect x="361.3" y="323.3" width="2" height="2"/><rect x="368.5" y="323.4" width="2" height="2"/><rect x="375.8" y="323.5" width="2" height="2"/><rect x="383.1" y="323.7" width="2" height="2"/><rect x="390.4" y="323.8" width="2" height="2"/><rect x="397.7" y="324.0" width="2" height="2"/><rect x="404.9" y="324.1" width="2" height="2"/><rect x="412.2" y="324.3" width="2" height="2"/><rect x="419.5" y="324.4" width="2" height="2"/><rect x="426.8" y="324.6" width="2" height="2"/><rect x="434.1" y="324.8" width="2" height="2"/><rect x="441.3" y="325.0" width="2" height="2"/><rect x="448.6" y="325.1" width="2" height="2"/><rect x="455.9" y="325.3" width="2" height="2"/><rect x="463.2" y="325.5" width="2" height="2"/><rect x="470.5" y="325.7" width="2" height="2"/><rect x="477.7" y="325.9" width="2" height="2"/><rect x="485.0" y="326.1" width="2" height="2"/><rect x="492.3" y="326.2" width="2" height="2"/><rect x="499.6" y="326.3" width="2" height="2"/><rect x="506.8" y="326.4" width="2" height="2"/><rect x="514.1" y="326.5" width="2" height="2"/><rect x="521.4" y="326.6" width="2" height="2"/><rect x="528.7" y="326.6" width="2" height="2"/><rect x="536.0" y="326.7" width="2" height="2"/><rect x="543.2" y="326.7" width="2" height="2"/><rect x="550.5" y="326.8" width="2" height="2"/><rect x="557.8" y="326.8" width="2" height="2"/></g>
<g fill="#004586"><rect x="616.9" y="34.00" width="6.4" height="1.5"/><rect x="616.9" y="31.55" width="6.4" height="6.4"/></g>
<text x="625.3" y="38.4" font-size="9.9" letter-spacing=".12">Biomass_SLI</text>
<g fill="#FF420E"><rect x="616.9" y="47.36" width="6.4" height="1.5"/><path d="M620.1 44.91L623.3 48.11L620.1 51.31L616.9 48.11Z"/></g>
<text x="625.3" y="51.7" font-size="9.9" letter-spacing=".12">EX_mnl(e)</text>
<g fill="#FFD320"><rect x="616.9" y="60.73" width="6.4" height="1.5"/><path d="M616.9 58.28L623.3 58.28L620.1 64.68Z"/></g>
<text x="625.3" y="65.1" font-size="9.9" letter-spacing=".12">EX_nh4(e)</text>
<g fill="#579D1C"><rect x="616.9" y="74.09" width="6.4" height="1.5"/><path d="M616.9 78.04L623.3 78.04L620.1 71.64Z"/></g>
<text x="625.3" y="78.4" font-size="9.9" letter-spacing=".12">EX_ala_L(e)</text>
<g fill="#7E0021"><rect x="616.9" y="87.76" width="6.4" height="0.9"/><path d="M616.9 85.01L623.3 88.21L616.9 91.41Z"/></g>
<text x="625.3" y="91.8" font-size="9.9" letter-spacing=".12">EX_arg_L(e)</text>
<g fill="#83CAFF"><rect x="616.9" y="101.12" width="6.4" height="0.9"/><path d="M623.3 98.37L616.9 101.57L623.3 104.77Z"/></g>
<text x="625.3" y="105.2" font-size="9.9" letter-spacing=".12">EX_asn_L(e)</text>
<g fill="#314004"><rect x="616.9" y="114.48" width="6.4" height="0.9"/><path d="M616.9 111.73L623.3 118.13L623.3 111.73L616.9 118.13Z"/></g>
<text x="625.3" y="118.5" font-size="9.9" letter-spacing=".12">EX_asp_L(e)</text>
<g fill="#AECF00"><rect x="616.9" y="127.85" width="6.4" height="0.9"/><path d="M616.9 125.1L623.3 125.1L616.9 131.5L623.3 131.5Z"/></g>
<text x="625.3" y="131.9" font-size="9.9" letter-spacing=".12">EX_cys_L(e)</text>
<g fill="#4B1F6F"><rect x="616.9" y="141.21" width="6.4" height="0.9"/><circle cx="620.1" cy="141.66" r="3.2"/></g>
<text x="625.3" y="145.3" font-size="9.9" letter-spacing=".12">EX_gln_L(e)</text>
<g fill="#FF950E"><rect x="616.9" y="154.58" width="6.4" height="0.9"/><path d="M620.1 151.83L620.8 154.32L623.3 155.03L620.8 155.73L620.1 158.23L619.4 155.73L616.9 155.03L619.4 154.32Z"/></g>
<text x="625.3" y="158.6" font-size="9.9" letter-spacing=".12">EX_glu_L(e)</text>
<g fill="#C5000B"><rect x="616.9" y="167.94" width="6.4" height="0.9"/><path d="M616.9 165.19L623.3 171.59M623.3 165.19L616.9 171.59" fill="none" stroke="#C5000B" stroke-width="0.96"/></g>
<text x="625.3" y="172.0" font-size="9.9" letter-spacing=".12">EX_gly(e)</text>
<g fill="#0084D1"><rect x="616.9" y="181.30" width="6.4" height="0.9"/><path d="M616.9 181.75H623.3M620.1 178.55V184.95" fill="none" stroke="#0084D1" stroke-width="1.02"/></g>
<text x="625.3" y="185.4" font-size="9.9" letter-spacing=".12">EX_his_L(e)</text>
<g fill="#004586"><rect x="616.9" y="194.67" width="6.4" height="0.9"/><path d="M616.9 191.92L623.3 198.32M623.3 191.92L616.9 198.32M616.9 195.12H623.3M620.1 191.92V198.32" fill="none" stroke="#004586" stroke-width="0.86"/></g>
<text x="625.3" y="198.7" font-size="9.9" letter-spacing=".12">EX_ile_L(e)</text>
<g fill="#FF420E"><rect x="616.9" y="208.03" width="6.4" height="0.9"/><rect x="616.9" y="207.78" width="6.4" height="1.41"/></g>
<text x="625.3" y="212.1" font-size="9.9" letter-spacing=".12">EX_leu_L(e)</text>
<g fill="#FFD320"><rect x="616.9" y="221.40" width="6.4" height="0.9"/><rect x="619.3" y="218.65" width="1.6" height="6.4"/></g>
<text x="625.3" y="225.4" font-size="9.9" letter-spacing=".12">EX_lys_L(e)</text>
<g fill="#579D1C"><rect x="616.9" y="234.76" width="6.4" height="0.9"/><rect x="616.9" y="232.01" width="6.4" height="6.4"/></g>
<text x="625.3" y="238.8" font-size="9.9" letter-spacing=".12">EX_met_L(e)</text>
<g fill="#7E0021"><rect x="616.9" y="248.12" width="6.4" height="0.9"/><path d="M620.1 245.37L623.3 248.57L620.1 251.77L616.9 248.57Z"/></g>
<text x="625.3" y="252.2" font-size="9.9" letter-spacing=".12">EX_phe_L(e)</text>
<g fill="#83CAFF"><rect x="616.9" y="261.49" width="6.4" height="0.9"/><path d="M616.9 258.74L623.3 258.74L620.1 265.14Z"/></g>
<text x="625.3" y="265.5" font-size="9.9" letter-spacing=".12">EX_pro_L(e)</text>
<g fill="#314004"><rect x="616.9" y="274.85" width="6.4" height="0.9"/><path d="M616.9 278.5L623.3 278.5L620.1 272.1Z"/></g>
<text x="625.3" y="278.9" font-size="9.9" letter-spacing=".12">EX_ser_L(e)</text>
<g fill="#AECF00"><rect x="616.9" y="288.22" width="6.4" height="0.9"/><path d="M616.9 285.47L623.3 288.67L616.9 291.87Z"/></g>
<text x="625.3" y="292.3" font-size="9.9" letter-spacing=".12">EX_thr_L(e)</text>
<g fill="#4B1F6F"><rect x="616.9" y="301.58" width="6.4" height="0.9"/><path d="M623.3 298.83L616.9 302.03L623.3 305.23Z"/></g>
<text x="625.3" y="305.6" font-size="9.9" letter-spacing=".12">EX_trp_L(e)</text>
<g fill="#FF950E"><rect x="616.9" y="314.94" width="6.4" height="0.9"/><path d="M616.9 312.19L623.3 318.59L623.3 312.19L616.9 318.59Z"/></g>
<text x="625.3" y="319.0" font-size="9.9" letter-spacing=".12">EX_tyr_L(e)</text>
<g fill="#C5000B"><rect x="616.9" y="328.31" width="6.4" height="0.9"/><path d="M616.9 325.56L623.3 325.56L616.9 331.96L623.3 331.96Z"/></g>
<text x="625.3" y="332.4" font-size="9.9" letter-spacing=".12">EX_val_L(e)</text>
</svg>
</body></html>
